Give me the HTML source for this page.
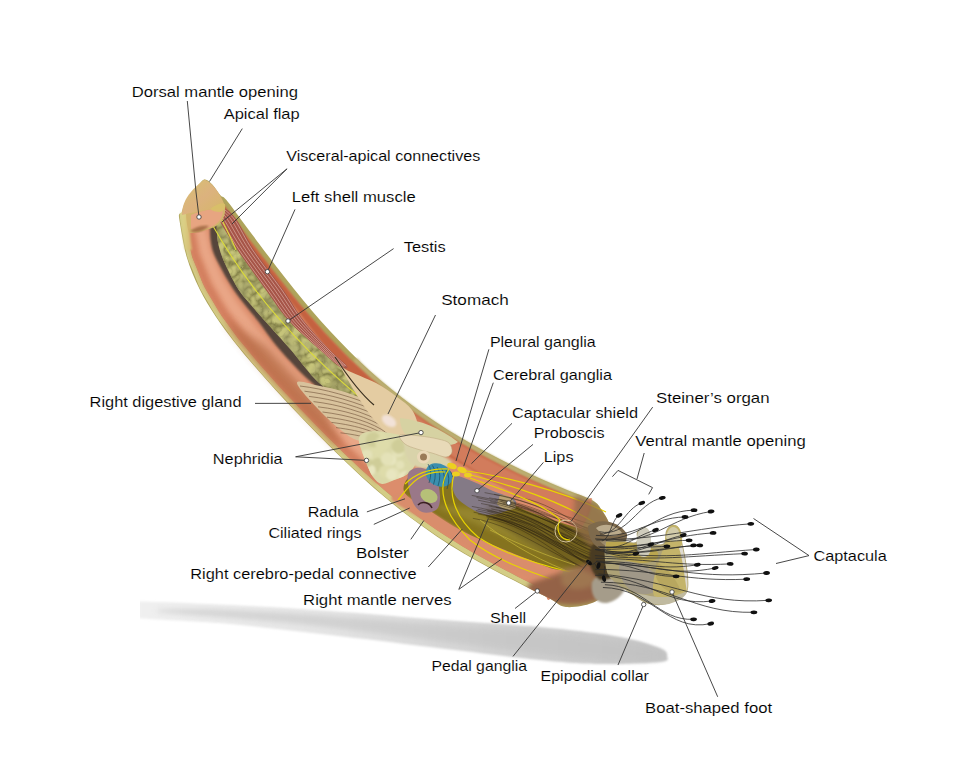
<!DOCTYPE html>
<html><head><meta charset="utf-8"><style>
html,body{margin:0;padding:0;background:#fff;width:960px;height:778px;overflow:hidden}
svg{display:block}
text{font-family:"Liberation Sans",sans-serif;font-size:15.5px;fill:#000;stroke:#fff;stroke-width:0.12px}
</style></head><body>
<svg width="960" height="778" viewBox="0 0 960 778">
<rect width="960" height="778" fill="#fff"/>
<defs>
<filter id="blur3" x="-10%" y="-50%" width="120%" height="200%"><feGaussianBlur stdDeviation="4"/></filter>
<filter id="blur3b" x="-30%" y="-30%" width="160%" height="160%"><feGaussianBlur stdDeviation="4"/></filter>
<filter id="blur1" x="-10%" y="-10%" width="120%" height="120%"><feGaussianBlur stdDeviation="1.2"/></filter>
<filter id="blur2" x="-20%" y="-20%" width="140%" height="140%"><feGaussianBlur stdDeviation="2.5"/></filter>
<filter id="mottle" x="0" y="0" width="100%" height="100%">
 <feTurbulence type="turbulence" baseFrequency="0.08" numOctaves="2" seed="4" result="n"/>
 <feColorMatrix in="n" type="matrix" values="0 0 0 0 0.24  0 0 0 0 0.23  0 0 0 0 0.07  -2.5 0 0 0 1.1" result="dark"/>
 <feGaussianBlur in="dark" stdDeviation="0.5" result="db"/>
 <feComposite in="db" in2="SourceGraphic" operator="in" result="d2"/>
 <feMerge><feMergeNode in="SourceGraphic"/><feMergeNode in="d2"/></feMerge>
</filter>
<filter id="mottle3" x="0" y="0" width="100%" height="100%">
 <feTurbulence type="fractalNoise" baseFrequency="0.05" numOctaves="2" seed="2" result="n"/>
 <feColorMatrix in="n" type="matrix" values="0 0 0 0 0.35  0 0 0 0 0.34  0 0 0 0 0.15  0 0 0 -5 2.7" result="dark"/>
 <feComposite in="dark" in2="SourceGraphic" operator="in"/>
</filter>
<filter id="mottle2" x="0" y="0" width="100%" height="100%">
 <feTurbulence type="fractalNoise" baseFrequency="0.12" numOctaves="2" seed="5" result="n"/>
 <feColorMatrix in="n" type="matrix" values="0 0 0 0 0.62  0 0 0 0 0.62  0 0 0 0 0.45  0 0 0 -6 3.4" result="dark"/>
 <feComposite in="dark" in2="SourceGraphic" operator="in" result="d2"/>
 <feMerge><feMergeNode in="SourceGraphic"/><feMergeNode in="d2"/></feMerge>
</filter>
<linearGradient id="shadowg" x1="140" y1="0" x2="667" y2="0" gradientUnits="userSpaceOnUse">
<stop offset="0" stop-color="#e6e6e6"/><stop offset="0.5" stop-color="#d0d0d0"/><stop offset="1" stop-color="#bcbcbc"/></linearGradient>
</defs>
<clipPath id="shclip"><rect x="140" y="560" width="600" height="140"/></clipPath>
<linearGradient id="shadowg2" x1="140" y1="0" x2="667" y2="0" gradientUnits="userSpaceOnUse"><stop offset="0" stop-color="#f0f0f0"/><stop offset="0.35" stop-color="#e4e4e4"/><stop offset="0.7" stop-color="#d0d0d0"/><stop offset="1" stop-color="#c4c4c4"/></linearGradient>
<g clip-path="url(#shclip)"><path d="M120.0,602.0 C138.3,600.2 195.0,603.5 230.0,605.0 C265.0,606.5 296.7,608.7 330.0,611.0 C363.3,613.3 393.3,616.2 430.0,619.0 C466.7,621.8 518.3,625.0 550.0,628.0 C581.7,631.0 601.7,633.7 620.0,637.0 C638.3,640.3 652.2,644.8 660.0,648.0 C667.8,651.2 667.0,653.7 667.0,656.0 C667.0,658.3 671.2,660.7 660.0,662.0 C648.8,663.3 620.0,664.3 600.0,664.0 C580.0,663.7 568.3,662.8 540.0,660.0 C511.7,657.2 465.0,651.2 430.0,647.0 C395.0,642.8 363.3,638.8 330.0,635.0 C296.7,631.2 265.0,627.2 230.0,624.0 C195.0,620.8 138.3,619.7 120.0,616.0 C101.7,612.3 101.7,603.8 120.0,602.0Z" fill="url(#shadowg2)" filter="url(#blur1)"/></g>
<path d="M200.0,609.0 C223.3,609.3 261.7,611.5 300.0,614.0 C338.3,616.5 388.3,620.8 430.0,624.0 C471.7,627.2 518.3,630.0 550.0,633.0 C581.7,636.0 601.7,638.8 620.0,642.0 C638.3,645.2 652.7,649.3 660.0,652.0 C667.3,654.7 667.3,656.5 664.0,658.0 C660.7,659.5 657.3,661.3 640.0,661.0 C622.7,660.7 595.0,659.5 560.0,656.0 C525.0,652.5 473.3,645.3 430.0,640.0 C386.7,634.7 345.0,628.7 300.0,624.0 C255.0,619.3 176.7,614.5 160.0,612.0 C143.3,609.5 176.7,608.7 200.0,609.0Z" fill="#c0c0c0" opacity="0.5" filter="url(#blur2)"/>
<path d="M212.3,184.4 C215.0,187.0 218.1,192.6 220.4,195.2 C222.7,197.8 222.4,195.3 226.2,199.8 C230.0,204.3 237.4,214.7 243.0,222.2 C248.6,229.7 254.2,237.2 259.8,244.7 C265.4,252.2 271.0,259.6 276.7,267.0 C282.4,274.4 288.2,281.8 294.0,289.0 C299.8,296.2 305.7,303.5 311.7,310.5 C317.7,317.5 323.9,324.4 330.2,331.2 C336.5,338.0 342.8,344.7 349.4,351.2 C355.9,357.7 362.6,364.2 369.5,370.4 C376.4,376.6 383.4,382.6 390.6,388.5 C397.8,394.4 405.2,400.1 412.7,405.7 C420.2,411.3 427.8,416.7 435.7,421.9 C443.6,427.1 451.6,432.1 459.8,437.0 C468.0,441.9 476.3,446.7 484.8,451.3 C493.3,455.9 501.9,460.3 510.7,464.6 C519.5,468.9 528.4,473.1 537.4,477.2 C546.4,481.3 555.5,485.1 564.7,489.0 C573.9,492.9 586.4,496.9 592.6,500.4 C598.8,503.9 599.0,506.2 601.7,510.0 C604.4,513.8 607.0,517.7 609.0,523.0 C611.0,528.3 612.8,534.8 614.0,542.0 C615.2,549.2 617.0,558.0 616.0,566.0 C615.0,574.0 612.0,583.8 608.0,590.0 C604.0,596.2 599.0,600.2 592.0,603.0 C585.0,605.8 572.9,607.7 566.0,607.0 C559.1,606.3 558.0,602.8 550.5,599.0 C543.0,595.2 530.9,589.2 521.2,584.2 C511.5,579.2 501.7,574.3 492.1,569.2 C482.6,564.1 473.1,558.9 463.9,553.4 C454.7,547.9 445.6,542.3 436.8,536.4 C428.0,530.5 419.4,524.4 411.0,518.1 C402.6,511.8 394.4,505.3 386.4,498.6 C378.4,491.9 370.5,485.0 362.8,478.0 C355.1,471.0 347.6,463.8 340.1,456.6 C332.7,449.4 325.4,442.1 318.1,434.7 C310.8,427.3 303.6,419.8 296.4,412.2 C289.2,404.6 282.1,397.1 275.1,389.4 C268.1,381.7 261.1,374.0 254.3,366.1 C247.5,358.2 240.7,350.3 234.3,342.0 C227.9,333.7 221.5,325.4 215.7,316.5 C209.9,307.6 204.2,298.6 199.4,288.7 C194.6,278.8 190.1,268.7 186.8,257.3 C183.5,245.9 180.7,227.7 179.5,220.5 C178.3,213.3 179.2,215.2 179.5,214.0 C179.8,212.8 180.8,214.5 181.5,213.0 C182.2,211.5 182.8,207.7 184.0,205.0 C185.2,202.3 187.0,199.8 189.0,197.0 C191.0,194.2 193.5,191.4 196.0,188.5 C198.5,185.6 201.5,180.2 204.2,179.5 C206.9,178.8 209.6,181.8 212.3,184.4Z" fill="#aea45c"/>
<clipPath id="tubeclip"><path d="M212.3,184.4 C215.0,187.0 218.1,192.6 220.4,195.2 C222.7,197.8 222.4,195.3 226.2,199.8 C230.0,204.3 237.4,214.7 243.0,222.2 C248.6,229.7 254.2,237.2 259.8,244.7 C265.4,252.2 271.0,259.6 276.7,267.0 C282.4,274.4 288.2,281.8 294.0,289.0 C299.8,296.2 305.7,303.5 311.7,310.5 C317.7,317.5 323.9,324.4 330.2,331.2 C336.5,338.0 342.8,344.7 349.4,351.2 C355.9,357.7 362.6,364.2 369.5,370.4 C376.4,376.6 383.4,382.6 390.6,388.5 C397.8,394.4 405.2,400.1 412.7,405.7 C420.2,411.3 427.8,416.7 435.7,421.9 C443.6,427.1 451.6,432.1 459.8,437.0 C468.0,441.9 476.3,446.7 484.8,451.3 C493.3,455.9 501.9,460.3 510.7,464.6 C519.5,468.9 528.4,473.1 537.4,477.2 C546.4,481.3 555.5,485.1 564.7,489.0 C573.9,492.9 586.4,496.9 592.6,500.4 C598.8,503.9 599.0,506.2 601.7,510.0 C604.4,513.8 607.0,517.7 609.0,523.0 C611.0,528.3 612.8,534.8 614.0,542.0 C615.2,549.2 617.0,558.0 616.0,566.0 C615.0,574.0 612.0,583.8 608.0,590.0 C604.0,596.2 599.0,600.2 592.0,603.0 C585.0,605.8 572.9,607.7 566.0,607.0 C559.1,606.3 558.0,602.8 550.5,599.0 C543.0,595.2 530.9,589.2 521.2,584.2 C511.5,579.2 501.7,574.3 492.1,569.2 C482.6,564.1 473.1,558.9 463.9,553.4 C454.7,547.9 445.6,542.3 436.8,536.4 C428.0,530.5 419.4,524.4 411.0,518.1 C402.6,511.8 394.4,505.3 386.4,498.6 C378.4,491.9 370.5,485.0 362.8,478.0 C355.1,471.0 347.6,463.8 340.1,456.6 C332.7,449.4 325.4,442.1 318.1,434.7 C310.8,427.3 303.6,419.8 296.4,412.2 C289.2,404.6 282.1,397.1 275.1,389.4 C268.1,381.7 261.1,374.0 254.3,366.1 C247.5,358.2 240.7,350.3 234.3,342.0 C227.9,333.7 221.5,325.4 215.7,316.5 C209.9,307.6 204.2,298.6 199.4,288.7 C194.6,278.8 190.1,268.7 186.8,257.3 C183.5,245.9 180.7,227.7 179.5,220.5 C178.3,213.3 179.2,215.2 179.5,214.0 C179.8,212.8 180.8,214.5 181.5,213.0 C182.2,211.5 182.8,207.7 184.0,205.0 C185.2,202.3 187.0,199.8 189.0,197.0 C191.0,194.2 193.5,191.4 196.0,188.5 C198.5,185.6 201.5,180.2 204.2,179.5 C206.9,178.8 209.6,181.8 212.3,184.4Z"/></clipPath>
<path d="M356.7,358.6 C358.2,358.8 360.1,361.9 361.9,363.5 C363.6,365.2 365.3,366.8 367.0,368.4 C368.7,370.0 370.5,371.6 372.3,373.2 C374.1,374.8 375.9,376.3 377.7,377.8 C379.5,379.4 381.3,380.9 383.1,382.4 C384.9,384.0 386.6,385.5 388.5,387.1 C390.3,388.6 392.1,390.1 394.0,391.5 C395.9,393.0 397.7,394.4 399.6,395.9 C401.5,397.3 403.4,398.8 405.2,400.3 C407.1,401.7 408.9,403.2 410.8,404.6 C412.7,406.0 414.7,407.4 416.6,408.8 C418.5,410.2 420.5,411.5 422.4,412.9 C424.3,414.3 426.3,415.6 428.2,417.0 C430.1,418.4 432.0,419.8 434.0,421.1 C436.0,422.4 438.0,423.7 440.0,424.9 C442.0,426.2 444.0,427.5 446.0,428.7 C448.0,430.0 450.0,431.2 452.0,432.5 C454.0,433.7 456.0,435.0 458.1,436.3 C460.1,437.5 462.1,438.7 464.2,439.9 C466.2,441.0 468.3,442.2 470.4,443.4 C472.4,444.6 474.5,445.7 476.5,446.9 C478.6,448.1 480.6,449.3 482.7,450.4 C484.8,451.6 486.9,452.7 489.0,453.8 C491.1,454.9 493.2,455.9 495.3,457.0 C497.4,458.1 499.5,459.2 501.6,460.3 C503.7,461.4 505.8,462.5 507.9,463.5 C510.1,464.6 512.2,465.6 514.3,466.6 C516.5,467.7 518.6,468.7 520.7,469.7 C522.9,470.7 525.0,471.7 527.2,472.7 C529.3,473.7 531.4,474.7 533.6,475.7 C535.7,476.7 537.9,477.7 540.1,478.7 C542.2,479.6 544.4,480.6 546.6,481.5 C548.8,482.4 550.9,483.4 553.1,484.3 C555.3,485.3 557.5,486.2 559.6,487.1 C561.8,488.1 564.0,489.0 566.2,489.9 C568.4,490.8 570.6,491.7 572.8,492.6 C574.9,493.5 577.1,494.4 579.3,495.3 C581.5,496.2 583.7,497.1 585.9,498.0 C588.1,498.9 591.7,499.4 592.5,500.7 C593.3,501.9 591.9,505.1 590.5,505.5 C589.1,505.8 586.1,503.7 583.9,502.8 C581.8,501.9 579.6,501.0 577.4,500.1 C575.2,499.2 573.0,498.3 570.8,497.4 C568.6,496.5 566.4,495.7 564.2,494.7 C562.0,493.8 559.8,492.9 557.6,491.9 C555.4,491.0 553.2,490.0 551.1,489.1 C548.9,488.2 546.7,487.2 544.5,486.3 C542.4,485.3 540.2,484.4 538.0,483.5 C535.8,482.5 533.6,481.4 531.4,480.4 C529.2,479.4 527.1,478.4 525.0,477.4 C522.8,476.4 520.7,475.4 518.5,474.4 C516.4,473.4 514.3,472.4 512.1,471.3 C509.9,470.3 507.7,469.2 505.6,468.1 C503.4,467.1 501.3,466.0 499.2,464.9 C497.1,463.8 495.0,462.7 492.9,461.7 C490.8,460.6 488.7,459.5 486.6,458.4 C484.5,457.3 482.2,456.1 480.1,455.0 C478.0,453.8 476.0,452.6 473.9,451.4 C471.9,450.2 469.8,449.1 467.8,447.9 C465.7,446.7 463.7,445.6 461.6,444.4 C459.5,443.2 457.4,441.9 455.3,440.7 C453.3,439.4 451.3,438.2 449.3,436.9 C447.3,435.6 445.3,434.4 443.2,433.1 C441.2,431.9 439.3,430.6 437.2,429.3 C435.2,428.1 433.1,426.7 431.1,425.4 C429.1,424.0 427.2,422.6 425.2,421.2 C423.3,419.9 421.3,418.5 419.4,417.1 C417.5,415.8 415.5,414.5 413.6,413.1 C411.6,411.7 409.6,410.2 407.7,408.7 C405.7,407.3 403.9,405.8 402.0,404.4 C400.2,402.9 398.3,401.5 396.4,400.0 C394.6,398.5 392.7,397.1 390.8,395.6 C388.9,394.1 386.9,392.6 385.1,391.0 C383.2,389.5 381.5,387.9 379.7,386.4 C377.9,384.8 376.1,383.3 374.3,381.8 C372.5,380.2 370.7,378.7 368.9,377.1 C367.1,375.5 365.2,373.8 363.4,372.2 C361.6,370.5 360.0,368.9 358.3,367.3 C356.6,365.6 353.4,363.8 353.1,362.4 C352.9,360.9 355.3,358.4 356.7,358.6Z" fill="#bcae72" filter="url(#blur1)"/>
<path d="M180.0,214.0 C179.4,215.8 180.4,221.4 180.9,225.1 C181.4,228.8 182.4,232.5 183.1,236.2 C183.9,239.9 184.6,243.6 185.3,247.2 C186.1,250.9 186.6,254.6 187.7,258.2 C188.8,261.8 190.5,265.2 191.9,268.6 C193.3,272.1 194.7,275.7 196.1,279.1 C197.5,282.6 198.8,286.1 200.5,289.5 C202.1,292.8 204.2,295.9 206.1,299.2 C208.0,302.4 209.9,305.7 211.8,308.9 C213.8,312.1 215.7,315.4 217.8,318.5 C219.9,321.6 222.2,324.6 224.4,327.6 C226.6,330.6 228.8,333.7 231.1,336.7 C233.3,339.7 235.6,342.7 237.9,345.6 C240.3,348.5 242.8,351.4 245.2,354.3 C247.6,357.2 249.9,360.1 252.4,363.0 C254.8,365.8 257.3,368.7 259.8,371.5 C262.3,374.3 264.8,377.1 267.3,379.9 C269.8,382.7 272.3,385.5 274.8,388.3 C277.3,391.1 279.9,393.8 282.5,396.6 C285.0,399.3 287.6,402.1 290.2,404.8 C292.8,407.6 295.3,410.3 297.9,413.0 C300.5,415.8 303.1,418.5 305.7,421.2 C308.4,423.9 311.0,426.6 313.6,429.3 C316.2,432.0 318.8,434.7 321.5,437.4 C324.1,440.0 326.8,442.7 329.5,445.3 C332.1,448.0 334.8,450.7 337.5,453.3 C340.2,455.9 342.9,458.5 345.6,461.1 C348.3,463.7 351.1,466.3 353.8,468.8 C356.6,471.4 359.2,474.0 362.0,476.6 C364.8,479.1 367.7,481.6 370.5,484.0 C373.3,486.5 376.1,489.0 379.0,491.5 C381.8,493.9 384.6,496.4 387.5,498.8 C390.4,501.2 393.4,503.5 396.3,505.8 C399.3,508.2 402.2,510.5 405.2,512.9 C408.2,515.2 411.1,517.5 414.1,519.7 C417.1,521.9 420.3,524.1 423.3,526.2 C426.4,528.4 429.4,530.6 432.5,532.8 C435.6,534.9 438.7,537.0 441.9,539.0 C445.1,541.1 448.3,543.0 451.5,545.0 C454.7,547.0 457.8,549.1 461.0,551.0 C464.2,553.0 467.5,554.8 470.8,556.7 C474.0,558.5 477.3,560.3 480.6,562.2 C483.9,564.0 487.1,565.9 490.5,567.7 C493.8,569.5 497.1,571.2 500.4,572.9 C503.8,574.7 507.1,576.4 510.5,578.1 C513.8,579.8 517.2,581.6 520.5,583.3 C523.9,585.0 527.2,586.7 530.6,588.4 C533.9,590.1 537.3,591.8 540.6,593.5 C544.0,595.2 548.7,598.4 550.7,598.6 C552.8,598.7 554.2,595.9 552.8,594.4 C551.5,592.8 546.1,591.0 542.8,589.3 C539.4,587.6 536.0,585.9 532.7,584.2 C529.3,582.5 526.0,580.8 522.6,579.1 C519.3,577.4 516.0,575.7 512.6,573.9 C509.3,572.2 505.9,570.5 502.6,568.8 C499.3,567.0 496.0,565.4 492.7,563.6 C489.4,561.8 486.2,559.9 482.9,558.1 C479.6,556.3 476.3,554.4 473.1,552.6 C469.8,550.7 466.7,548.9 463.5,547.0 C460.3,545.1 457.1,543.0 454.0,541.0 C450.8,539.0 447.5,537.0 444.4,535.0 C441.3,533.0 438.3,531.0 435.3,528.9 C432.2,526.8 429.1,524.6 426.1,522.4 C423.0,520.2 419.8,518.1 416.9,515.9 C413.9,513.7 411.0,511.5 408.1,509.2 C405.2,506.9 402.2,504.5 399.3,502.2 C396.3,499.8 393.4,497.6 390.5,495.2 C387.6,492.8 384.9,490.4 382.1,487.9 C379.3,485.5 376.4,483.0 373.6,480.5 C370.8,478.0 368.0,475.6 365.2,473.1 C362.5,470.6 359.8,468.0 357.0,465.4 C354.3,462.8 351.5,460.3 348.8,457.7 C346.1,455.1 343.5,452.6 340.8,449.9 C338.1,447.3 335.5,444.6 332.8,442.0 C330.1,439.3 327.4,436.7 324.8,434.0 C322.2,431.4 319.6,428.7 317.0,426.0 C314.4,423.3 311.7,420.6 309.1,417.9 C306.5,415.2 303.9,412.5 301.3,409.8 C298.7,407.1 296.2,404.4 293.6,401.6 C291.1,398.9 288.5,396.1 285.9,393.4 C283.4,390.6 280.8,387.9 278.3,385.2 C275.8,382.4 273.3,379.6 270.8,376.8 C268.3,374.0 265.7,371.1 263.3,368.3 C260.8,365.5 258.4,362.8 256.0,360.0 C253.6,357.1 251.2,354.2 248.8,351.3 C246.4,348.4 243.9,345.5 241.6,342.6 C239.2,339.7 237.1,336.9 234.9,333.9 C232.6,331.0 230.4,327.9 228.2,324.8 C226.0,321.8 223.6,318.8 221.6,315.7 C219.5,312.7 217.8,309.7 215.9,306.6 C214.0,303.4 212.1,300.0 210.2,296.8 C208.3,293.6 206.2,290.5 204.6,287.3 C203.0,284.0 201.8,280.8 200.5,277.4 C199.1,274.0 197.6,270.3 196.3,266.9 C194.9,263.4 193.2,260.1 192.1,256.7 C191.1,253.3 190.7,249.9 189.9,246.3 C189.2,242.8 188.5,238.9 187.7,235.3 C187.0,231.6 186.0,227.7 185.5,224.2 C185.0,220.6 185.6,215.7 184.7,214.0 C183.8,212.3 180.6,212.2 180.0,214.0Z" fill="#d3cd86"/>
<path d="M207.9,187.7 C212.6,184.5 211.0,192.2 213.0,194.5 C215.0,196.9 217.8,199.6 219.7,201.7 C221.7,203.8 223.0,204.9 224.6,206.9 C226.3,208.9 228.0,211.4 229.8,213.7 C231.5,216.0 233.2,218.3 234.9,220.5 C236.6,222.8 238.3,225.1 240.0,227.4 C241.7,229.6 243.4,231.9 245.1,234.2 C246.8,236.5 248.5,238.8 250.2,241.0 C251.9,243.3 253.6,245.6 255.3,247.9 C257.0,250.2 258.8,252.4 260.5,254.7 C262.2,257.0 263.9,259.3 265.6,261.5 C267.4,263.8 269.1,266.1 270.8,268.3 C272.6,270.6 274.3,272.9 276.1,275.1 C277.9,277.4 279.6,279.6 281.4,281.9 C283.1,284.1 284.9,286.3 286.7,288.6 C288.4,290.8 290.3,293.1 292.1,295.3 C293.9,297.6 295.7,299.7 297.5,301.9 C299.3,304.1 301.1,306.3 302.9,308.5 C304.8,310.7 306.6,313.0 308.5,315.2 C310.4,317.4 312.3,319.5 314.2,321.6 C316.1,323.7 318.0,325.8 319.9,328.0 C321.8,330.1 323.7,332.3 325.7,334.4 C327.6,336.5 329.7,338.6 331.7,340.7 C333.6,342.7 335.6,344.8 337.6,346.8 C339.5,348.9 341.5,350.9 343.5,353.0 C345.5,355.0 347.7,357.1 349.7,359.1 C351.8,361.1 353.9,363.1 355.9,365.0 C358.0,367.0 360.0,368.9 362.1,370.9 C364.2,372.9 366.4,375.0 368.6,376.9 C370.8,378.8 372.9,380.6 375.1,382.4 C377.2,384.3 379.4,386.1 381.6,388.0 C383.8,389.9 386.0,391.8 388.2,393.6 C390.5,395.5 392.8,397.2 395.0,398.9 C397.3,400.7 399.5,402.4 401.8,404.2 C404.0,405.9 406.3,407.7 408.6,409.5 C410.9,411.2 413.3,412.9 415.7,414.5 C418.0,416.2 420.3,417.8 422.6,419.4 C425.0,421.1 427.2,422.7 429.6,424.4 C432.0,426.0 434.6,427.6 437.0,429.2 C439.4,430.8 441.8,432.2 444.2,433.7 C446.7,435.3 449.0,436.8 451.5,438.3 C453.9,439.8 456.4,441.4 458.9,442.8 C461.4,444.3 463.9,445.7 466.4,447.1 C468.8,448.5 471.3,449.9 473.8,451.3 C476.3,452.7 478.7,454.2 481.2,455.6 C483.8,457.0 486.4,458.3 489.0,459.6 C491.5,460.9 494.0,462.2 496.6,463.5 C499.1,464.8 501.6,466.1 504.2,467.4 C506.7,468.7 509.4,470.0 512.0,471.3 C514.6,472.5 517.1,473.7 519.7,474.9 C522.3,476.1 524.8,477.4 527.4,478.6 C530.0,479.8 532.6,481.1 535.2,482.2 C537.9,483.4 540.5,484.5 543.2,485.7 C545.8,486.8 548.4,487.9 551.0,489.1 C553.6,490.2 556.2,491.3 558.8,492.5 C561.5,493.6 564.2,494.7 566.8,495.8 C569.5,496.9 572.1,498.0 574.7,499.0 C577.3,500.1 580.0,501.2 582.6,502.3 C585.3,503.3 595.5,490.1 590.5,505.5 C585.6,520.8 560.5,580.3 552.8,594.4 C545.2,608.5 547.3,591.5 544.5,590.1 C541.7,588.7 538.9,587.3 536.1,585.9 C533.3,584.5 530.5,583.1 527.7,581.7 C525.0,580.3 522.2,578.9 519.4,577.4 C516.7,576.0 513.9,574.6 511.1,573.1 C508.3,571.7 505.5,570.3 502.8,568.8 C500.0,567.4 497.2,566.0 494.5,564.6 C491.8,563.1 489.1,561.6 486.4,560.1 C483.7,558.5 481.0,557.0 478.2,555.5 C475.5,553.9 472.7,552.4 470.1,550.9 C467.4,549.3 464.9,547.8 462.2,546.2 C459.6,544.6 456.9,542.9 454.3,541.2 C451.6,539.6 449.0,537.9 446.3,536.2 C443.7,534.6 441.2,533.0 438.6,531.3 C436.1,529.6 433.6,527.7 431.0,525.9 C428.5,524.1 425.9,522.3 423.4,520.5 C420.9,518.7 418.3,517.0 415.8,515.1 C413.3,513.3 411.0,511.4 408.6,509.5 C406.1,507.6 403.7,505.6 401.2,503.7 C398.8,501.8 396.3,499.8 393.9,497.9 C391.5,495.9 389.2,494.1 386.8,492.1 C384.5,490.1 382.1,488.0 379.8,485.9 C377.4,483.9 375.0,481.8 372.7,479.7 C370.4,477.7 368.0,475.7 365.8,473.6 C363.5,471.6 361.3,469.4 359.0,467.3 C356.7,465.1 354.4,463.0 352.2,460.8 C349.9,458.7 347.6,456.6 345.4,454.4 C343.1,452.3 341.0,450.1 338.8,447.9 C336.5,445.7 334.3,443.5 332.1,441.3 C329.9,439.1 327.7,436.9 325.5,434.7 C323.3,432.5 321.1,430.3 319.0,428.1 C316.8,425.9 314.6,423.6 312.5,421.4 C310.3,419.1 308.1,416.8 305.9,414.6 C303.8,412.4 301.6,410.1 299.5,407.9 C297.3,405.6 295.2,403.3 293.1,401.1 C291.0,398.8 288.8,396.5 286.7,394.2 C284.6,391.9 282.4,389.7 280.3,387.4 C278.2,385.1 276.2,382.8 274.1,380.5 C272.0,378.2 269.9,375.8 267.9,373.5 C265.8,371.2 263.7,368.8 261.6,366.5 C259.6,364.2 257.6,361.9 255.6,359.5 C253.6,357.2 251.6,354.7 249.6,352.3 C247.6,349.9 245.6,347.5 243.6,345.1 C241.7,342.7 239.7,340.5 237.8,338.0 C236.0,335.6 234.2,333.1 232.4,330.5 C230.5,328.0 228.7,325.5 226.9,323.0 C225.0,320.5 223.1,318.0 221.4,315.4 C219.7,312.9 218.2,310.5 216.7,307.9 C215.1,305.3 213.5,302.5 211.9,299.8 C210.3,297.1 208.6,294.3 207.2,291.7 C205.7,289.1 204.4,286.8 203.1,284.1 C201.9,281.4 200.8,278.3 199.7,275.4 C198.5,272.5 197.3,269.6 196.2,266.7 C195.0,263.8 193.6,260.8 192.7,258.0 C191.8,255.2 191.3,252.8 190.6,249.9 C190.0,247.0 189.4,243.8 188.8,240.7 C188.2,237.6 187.6,234.6 187.0,231.5 C186.4,228.5 185.6,225.3 185.2,222.4 C184.8,219.5 180.9,219.8 184.7,214.0 C188.5,208.2 203.2,190.9 207.9,187.7Z" fill="#dc8d6c"/>
<path d="M208.3,187.4 C209.9,188.4 212.1,193.0 214.5,195.7 C216.8,198.3 220.1,200.7 222.4,203.2 C224.6,205.7 226.2,208.1 228.2,210.8 C230.2,213.4 232.3,216.2 234.3,219.0 C236.4,221.7 238.4,224.5 240.5,227.2 C242.5,229.9 244.6,232.7 246.6,235.4 C248.7,238.2 250.7,240.9 252.8,243.7 C254.9,246.4 256.9,249.2 259.0,251.9 C261.1,254.7 263.1,257.4 265.2,260.1 C267.3,262.8 269.3,265.6 271.4,268.3 C273.5,271.0 275.7,273.8 277.8,276.5 C279.9,279.2 282.0,281.9 284.2,284.6 C286.3,287.3 288.4,290.0 290.6,292.7 C292.7,295.4 294.9,298.0 297.1,300.7 C299.3,303.3 301.4,305.9 303.7,308.6 C305.9,311.3 308.2,314.0 310.4,316.6 C312.7,319.2 315.0,321.7 317.3,324.3 C319.6,326.8 321.8,329.4 324.1,331.9 C326.5,334.5 328.9,337.0 331.3,339.6 C333.7,342.1 336.0,344.5 338.4,347.0 C340.8,349.5 343.2,352.0 345.6,354.4 C348.1,356.9 350.6,359.3 353.1,361.7 C355.6,364.0 358.0,366.4 360.5,368.8 C363.1,371.1 365.7,373.6 368.3,375.9 C370.9,378.2 373.5,380.4 376.1,382.6 C378.7,384.9 381.2,387.1 383.9,389.3 C386.5,391.5 389.3,393.8 392.0,396.0 C394.7,398.1 397.4,400.2 400.1,402.3 C402.9,404.4 405.5,406.5 408.3,408.6 C411.1,410.7 414.0,412.7 416.8,414.7 C419.6,416.7 422.4,418.6 425.2,420.6 C428.0,422.6 430.9,424.7 433.8,426.6 C436.7,428.5 439.7,430.3 442.6,432.1 C445.5,433.9 448.4,435.8 451.3,437.6 C454.2,439.4 457.3,441.3 460.2,443.0 C463.2,444.8 466.2,446.4 469.2,448.1 C472.2,449.8 475.1,451.5 478.1,453.2 C481.1,454.9 484.3,456.6 487.3,458.2 C490.4,459.8 493.4,461.4 496.5,462.9 C499.5,464.5 502.6,466.1 505.6,467.6 C508.7,469.2 511.9,470.7 515.0,472.2 C518.2,473.7 521.2,475.1 524.3,476.6 C527.4,478.0 530.5,479.5 533.7,481.0 C536.8,482.4 540.0,483.8 543.2,485.2 C546.4,486.5 549.5,487.9 552.6,489.2 C555.8,490.6 558.9,492.0 562.1,493.3 C565.3,494.7 568.5,495.9 571.7,497.3 C574.9,498.6 578.0,499.8 581.2,501.1 C584.4,502.4 590.3,501.4 590.7,505.0 C591.1,508.6 586.3,520.4 583.5,522.6 C580.7,524.9 577.2,520.0 574.0,518.6 C570.9,517.3 567.8,516.0 564.6,514.6 C561.4,513.3 558.0,511.9 554.8,510.5 C551.6,509.1 548.4,507.7 545.3,506.2 C542.1,504.8 539.1,503.5 535.9,502.1 C532.7,500.6 529.2,499.1 526.0,497.6 C522.7,496.1 519.7,494.5 516.6,493.0 C513.5,491.5 510.5,490.1 507.3,488.5 C504.1,486.9 500.6,485.2 497.5,483.6 C494.3,482.0 491.4,480.4 488.3,478.8 C485.3,477.2 482.4,475.7 479.2,474.0 C476.1,472.3 472.5,470.3 469.4,468.5 C466.2,466.7 463.5,465.0 460.5,463.3 C457.5,461.6 454.7,459.9 451.6,458.1 C448.5,456.2 445.2,454.1 442.1,452.2 C439.1,450.3 436.4,448.5 433.5,446.6 C430.6,444.7 427.5,443.0 424.5,440.9 C421.6,438.8 418.5,436.3 415.7,434.1 C412.9,431.9 410.5,429.9 407.7,427.7 C404.9,425.5 401.8,423.0 399.0,420.7 C396.3,418.4 393.8,416.1 391.2,413.8 C388.6,411.5 386.1,409.4 383.4,407.0 C380.7,404.6 377.8,402.0 375.1,399.5 C372.5,397.1 370.2,394.7 367.7,392.3 C365.3,390.0 362.8,387.7 360.3,385.2 C357.8,382.6 355.0,379.7 352.5,377.1 C350.1,374.5 347.9,372.2 345.5,369.6 C343.2,367.0 340.7,364.4 338.3,361.7 C336.0,359.0 333.7,356.3 331.5,353.6 C329.2,351.0 327.1,348.4 324.9,345.7 C322.6,343.0 320.2,340.2 318.0,337.4 C315.8,334.7 313.8,332.0 311.6,329.3 C309.5,326.6 307.4,324.0 305.3,321.2 C303.2,318.4 301.0,315.3 298.9,312.5 C296.7,309.7 294.7,307.1 292.6,304.4 C290.4,301.7 288.2,299.0 286.1,296.3 C283.9,293.6 281.8,290.8 279.7,288.0 C277.6,285.3 275.6,282.6 273.5,279.9 C271.4,277.1 269.2,274.3 267.2,271.6 C265.1,268.8 263.1,266.0 261.0,263.3 C259.0,260.5 257.0,257.8 254.9,255.0 C252.9,252.2 250.9,249.4 248.8,246.6 C246.8,243.9 244.8,241.1 242.8,238.3 C240.8,235.5 238.8,232.8 236.7,230.0 C234.7,227.2 232.7,224.5 230.7,221.7 C228.7,218.9 226.5,216.0 224.6,213.4 C222.7,210.8 221.6,208.8 219.4,206.2 C217.1,203.7 213.6,200.9 211.2,198.2 C208.8,195.4 205.6,191.6 205.1,189.8 C204.6,188.0 206.7,186.4 208.3,187.4Z" fill="#c4623f" filter="url(#blur1)"/>
<path d="M193.5,214.0 C191.9,215.1 193.4,218.0 193.7,220.4 C194.1,222.9 194.8,225.8 195.4,228.7 C195.9,231.5 196.5,234.4 197.1,237.3 C197.7,240.2 198.3,243.2 198.8,245.9 C199.3,248.6 199.5,250.9 200.2,253.3 C201.0,255.7 202.0,257.7 203.0,260.2 C204.1,262.7 205.2,265.6 206.3,268.4 C207.4,271.1 208.6,274.0 209.6,276.5 C210.6,279.0 211.3,280.9 212.4,283.2 C213.6,285.5 215.1,287.9 216.6,290.3 C218.0,292.8 219.5,295.4 221.0,297.9 C222.5,300.4 224.0,303.2 225.5,305.5 C226.9,307.8 228.0,309.5 229.5,311.7 C231.0,313.9 233.0,316.4 234.7,318.8 C236.4,321.1 238.2,323.6 239.9,325.9 C241.6,328.2 243.2,330.5 244.9,332.7 C246.6,334.9 248.3,336.9 250.1,339.1 C251.9,341.3 253.8,343.6 255.7,345.9 C257.6,348.1 259.5,350.4 261.3,352.6 C263.1,354.8 264.8,356.8 266.7,359.0 C268.6,361.1 270.6,363.3 272.5,365.5 C274.5,367.7 276.4,369.9 278.4,372.1 C280.3,374.2 282.3,376.5 284.2,378.6 C286.2,380.7 288.0,382.7 290.0,384.8 C292.0,387.0 294.0,389.1 296.0,391.3 C298.0,393.4 300.0,395.6 302.0,397.7 C304.0,399.8 305.9,401.9 307.9,404.0 C309.9,406.1 312.0,408.2 314.0,410.3 C316.0,412.4 318.1,414.5 320.1,416.6 C322.1,418.7 324.2,420.8 326.2,422.9 C328.2,425.0 330.1,426.9 332.2,429.0 C334.2,431.0 336.3,433.1 338.4,435.2 C340.5,437.2 342.6,439.3 344.6,441.4 C346.7,443.4 348.6,445.4 350.7,447.4 C352.8,449.4 354.9,451.3 357.0,453.3 C359.1,455.3 361.3,457.3 363.4,459.4 C365.6,461.4 367.7,463.4 369.8,465.4 C371.9,467.3 373.8,469.0 376.0,470.9 C378.1,472.8 379.7,477.7 382.6,476.7 C385.4,475.6 392.5,467.6 393.1,464.6 C393.7,461.7 388.5,460.7 386.4,459.0 C384.3,457.2 382.6,455.8 380.6,453.9 C378.5,452.1 376.3,450.0 374.1,448.0 C371.9,446.1 369.7,444.1 367.6,442.1 C365.5,440.2 363.3,438.3 361.3,436.3 C359.2,434.4 357.4,432.6 355.3,430.7 C353.3,428.7 351.1,426.6 349.0,424.6 C346.9,422.5 344.7,420.4 342.6,418.5 C340.6,416.5 338.7,414.7 336.7,412.7 C334.7,410.7 332.6,408.6 330.5,406.5 C328.5,404.5 326.4,402.4 324.3,400.3 C322.3,398.2 320.2,396.1 318.2,394.1 C316.1,392.1 314.3,390.2 312.3,388.1 C310.3,386.0 308.2,383.9 306.2,381.8 C304.1,379.7 302.0,377.5 300.1,375.4 C298.1,373.4 296.3,371.5 294.3,369.5 C292.4,367.4 290.4,365.2 288.4,363.1 C286.5,361.0 284.4,358.8 282.5,356.6 C280.5,354.5 278.4,352.3 276.6,350.3 C274.7,348.2 273.2,346.4 271.3,344.3 C269.5,342.2 267.5,339.9 265.6,337.6 C263.7,335.4 261.6,333.1 259.9,331.0 C258.1,328.9 256.5,327.2 254.8,325.1 C253.2,323.1 251.6,320.8 249.9,318.6 C248.2,316.3 246.3,313.9 244.6,311.6 C242.8,309.2 240.7,306.6 239.3,304.6 C237.8,302.5 237.1,301.5 235.7,299.4 C234.4,297.3 232.7,294.5 231.2,292.0 C229.6,289.5 228.0,286.8 226.6,284.5 C225.1,282.1 223.6,279.8 222.5,277.8 C221.4,275.8 221.0,274.6 220.1,272.3 C219.1,270.1 217.8,266.9 216.6,264.2 C215.5,261.5 214.2,258.5 213.2,256.1 C212.2,253.8 211.3,252.3 210.6,250.2 C209.9,248.2 209.8,246.3 209.2,243.8 C208.7,241.3 208.0,238.1 207.4,235.2 C206.8,232.4 206.1,229.4 205.5,226.6 C204.9,223.9 204.1,220.8 203.8,218.7 C203.4,216.6 205.2,214.8 203.5,214.0 C201.8,213.2 195.1,212.9 193.5,214.0Z" fill="#e9a686" filter="url(#blur2)"/>
<path d="M185.5,214.0 C184.7,215.3 185.5,219.0 185.9,221.7 C186.2,224.4 187.0,227.4 187.5,230.2 C188.1,233.1 188.7,236.0 189.3,238.8 C189.8,241.7 190.4,244.7 191.0,247.5 C191.5,250.2 191.8,252.9 192.6,255.5 C193.4,258.2 194.6,260.5 195.6,263.2 C196.7,265.8 197.8,268.6 198.9,271.3 C200.0,274.1 201.1,276.9 202.2,279.5 C203.3,282.1 204.1,284.5 205.4,287.0 C206.6,289.5 208.2,291.9 209.7,294.4 C211.1,296.9 212.6,299.4 214.1,301.9 C215.6,304.5 217.1,307.1 218.6,309.5 C220.1,311.9 221.4,314.1 223.0,316.4 C224.7,318.7 226.5,321.1 228.2,323.5 C230.0,325.9 231.7,328.2 233.4,330.6 C235.1,332.9 236.8,335.3 238.5,337.6 C240.3,339.9 242.1,342.0 243.9,344.2 C245.8,346.4 247.7,348.7 249.5,351.0 C251.4,353.2 253.3,355.5 255.2,357.7 C257.0,360.0 258.8,362.1 260.7,364.3 C262.6,366.5 264.6,368.6 266.6,370.8 C268.5,373.0 270.5,375.2 272.4,377.4 C274.4,379.6 276.3,381.8 278.3,383.9 C280.2,386.1 282.2,388.2 284.2,390.3 C286.1,392.4 288.2,394.6 290.2,396.7 C292.2,398.9 294.2,401.0 296.2,403.2 C298.2,405.3 300.1,407.4 302.1,409.5 C304.1,411.6 306.2,413.7 308.2,415.8 C310.3,417.9 312.3,420.0 314.3,422.1 C316.4,424.3 318.4,426.4 320.4,428.5 C322.5,430.5 324.5,432.6 326.5,434.6 C328.6,436.7 330.7,438.8 332.8,440.8 C334.8,442.9 336.9,445.0 339.0,447.0 C341.1,449.1 343.1,451.1 345.2,453.1 C347.3,455.2 349.4,457.1 351.5,459.1 C353.7,461.1 355.8,463.2 357.9,465.2 C360.1,467.2 362.2,469.2 364.3,471.2 C366.5,473.2 368.5,475.0 370.7,476.9 C372.9,478.9 375.7,482.4 377.3,482.7 C379.0,483.1 381.2,480.5 380.6,478.9 C380.1,477.4 376.1,475.1 374.0,473.2 C371.8,471.3 369.9,469.5 367.8,467.6 C365.7,465.6 363.5,463.5 361.4,461.5 C359.2,459.5 357.1,457.5 355.0,455.5 C352.8,453.5 350.7,451.5 348.6,449.5 C346.6,447.5 344.6,445.5 342.5,443.5 C340.5,441.5 338.4,439.4 336.3,437.3 C334.2,435.2 332.1,433.1 330.1,431.1 C328.0,429.0 326.0,427.1 324.0,425.0 C322.0,422.9 320.0,420.8 317.9,418.7 C315.9,416.6 313.9,414.5 311.8,412.3 C309.8,410.2 307.7,408.1 305.7,406.0 C303.7,403.9 301.8,401.9 299.8,399.7 C297.8,397.6 295.8,395.5 293.8,393.3 C291.8,391.2 289.8,389.0 287.8,386.9 C285.8,384.8 283.9,382.7 282.0,380.6 C280.0,378.5 278.1,376.2 276.2,374.1 C274.2,371.9 272.2,369.7 270.3,367.5 C268.3,365.3 266.4,363.1 264.5,361.0 C262.6,358.8 260.9,356.7 259.0,354.5 C257.2,352.3 255.3,350.0 253.4,347.8 C251.5,345.5 249.6,343.2 247.8,341.0 C246.0,338.8 244.2,336.8 242.5,334.6 C240.8,332.3 239.1,330.0 237.4,327.6 C235.7,325.3 234.0,322.9 232.3,320.5 C230.5,318.2 228.6,315.7 227.1,313.4 C225.5,311.2 224.3,309.3 222.9,307.0 C221.4,304.7 219.9,301.9 218.4,299.4 C217.0,296.9 215.4,294.3 214.0,291.8 C212.5,289.4 211.0,287.0 209.8,284.6 C208.6,282.3 207.9,280.2 206.8,277.6 C205.8,275.1 204.6,272.2 203.5,269.5 C202.4,266.8 201.3,263.9 200.3,261.3 C199.2,258.8 198.1,256.6 197.4,254.1 C196.6,251.7 196.4,249.2 195.9,246.5 C195.3,243.8 194.7,240.7 194.2,237.9 C193.6,235.0 193.0,232.1 192.4,229.2 C191.9,226.4 191.1,223.5 190.8,220.9 C190.5,218.4 191.4,215.2 190.5,214.0 C189.6,212.8 186.3,212.7 185.5,214.0Z" fill="#cc7454" filter="url(#blur2)" opacity="0.75"/>
<path d="M226.6,322.9 C226.7,324.0 228.8,326.0 230.0,327.6 C231.1,329.1 232.2,330.6 233.3,332.2 C234.4,333.7 235.6,335.3 236.7,336.8 C237.8,338.3 238.9,339.6 240.0,341.1 C241.2,342.5 242.5,344.0 243.7,345.5 C244.9,346.9 246.1,348.4 247.3,349.9 C248.5,351.3 249.8,352.8 251.0,354.3 C252.2,355.7 253.4,357.2 254.6,358.7 C255.8,360.1 257.0,361.6 258.3,363.0 C259.5,364.4 260.7,365.8 262.0,367.2 C263.2,368.6 264.5,370.1 265.8,371.5 C267.1,372.9 268.3,374.3 269.6,375.7 C270.9,377.2 272.2,378.6 273.4,380.0 C274.7,381.4 276.0,382.9 277.2,384.3 C278.5,385.7 279.7,387.0 281.0,388.4 C282.3,389.8 283.6,391.2 284.9,392.6 C286.2,394.0 287.5,395.4 288.8,396.8 C290.1,398.2 291.4,399.6 292.7,401.0 C294.0,402.4 295.3,403.8 296.6,405.1 C297.9,406.5 299.2,407.9 300.5,409.3 C301.8,410.6 303.2,412.0 304.5,413.4 C305.8,414.7 307.1,416.1 308.5,417.5 C309.8,418.9 311.1,420.2 312.4,421.6 C313.7,423.0 315.1,424.4 316.4,425.7 C317.7,427.1 319.0,428.5 320.4,429.8 C321.7,431.2 323.0,432.5 324.3,433.8 C325.7,435.2 327.0,436.5 328.4,437.9 C329.7,439.2 331.1,440.6 332.4,441.9 C333.8,443.3 335.2,445.9 336.5,446.0 C337.8,446.0 339.9,443.9 340.0,442.4 C340.2,440.9 338.3,438.7 337.4,436.9 C336.6,435.1 335.7,433.2 334.8,431.4 C334.0,429.6 333.1,427.7 332.2,425.9 C331.4,424.1 330.7,422.4 329.9,420.6 C329.1,418.8 328.3,416.9 327.4,415.1 C326.6,413.2 325.8,411.3 325.0,409.5 C324.1,407.7 323.3,405.9 322.1,404.3 C320.9,402.8 319.4,401.6 318.0,400.3 C316.7,399.0 315.4,397.7 314.1,396.4 C312.8,395.1 311.5,393.8 310.2,392.5 C308.9,391.1 307.5,389.7 306.2,388.4 C304.9,387.0 303.5,385.7 302.2,384.3 C300.9,382.9 299.5,381.6 298.2,380.2 C296.8,378.9 295.5,377.4 294.2,376.1 C292.9,374.8 291.8,373.7 290.5,372.4 C289.3,371.0 287.9,369.6 286.6,368.2 C285.3,366.8 284.0,365.4 282.7,364.0 C281.4,362.6 280.1,361.2 278.8,359.9 C277.5,358.5 276.2,357.0 274.9,355.7 C273.6,354.3 272.4,353.1 271.2,351.8 C270.1,350.5 269.1,349.0 267.7,347.8 C266.4,346.5 264.7,345.4 263.0,344.3 C261.4,343.1 259.7,342.1 258.0,341.0 C256.3,339.9 254.6,338.8 252.9,337.8 C251.3,336.7 249.5,335.6 247.9,334.6 C246.4,333.6 245.0,332.8 243.5,331.8 C241.9,330.7 240.3,329.5 238.7,328.3 C237.1,327.1 235.5,325.9 233.8,324.7 C232.2,323.5 230.2,321.5 229.0,321.2 C227.8,320.9 226.4,321.9 226.6,322.9Z" fill="#b86e48" filter="url(#blur3b)" opacity="0.8"/>
<path d="M210.0,229.0 C209.8,234.3 210.5,243.2 212.5,250.0 C214.5,256.8 218.5,263.3 222.0,270.0 C225.5,276.7 229.9,284.2 233.8,290.0 C237.6,295.8 241.0,299.8 245.0,305.0 C249.0,310.2 252.2,313.5 258.0,321.0 C263.8,328.5 271.5,340.2 280.0,350.0 C288.5,359.8 299.6,371.7 308.8,380.0 C317.9,388.3 326.5,395.0 335.0,400.0 C343.5,405.0 352.5,407.7 360.0,410.0 C367.5,412.3 376.0,414.3 380.0,414.0 C384.0,413.7 385.0,409.8 384.0,408.0 C383.0,406.2 379.5,407.7 374.0,403.0 C368.5,398.3 357.0,386.3 351.0,380.0 C345.0,373.7 343.2,370.0 338.0,365.0 C332.8,360.0 328.2,357.3 320.0,350.0 C311.8,342.7 298.0,331.0 289.0,321.0 C280.0,311.0 274.6,301.8 266.0,290.0 C257.4,278.2 245.3,261.7 237.5,250.0 C229.7,238.3 222.9,225.3 219.0,220.0 C215.1,214.7 215.5,216.5 214.0,218.0 C212.5,219.5 210.2,223.7 210.0,229.0Z" fill="#54443a" filter="url(#blur1)"/>
<path d="M217.0,233.0 C217.1,238.0 218.0,243.8 219.8,250.0 C221.6,256.2 224.8,263.3 228.0,270.0 C231.2,276.7 234.9,284.2 238.8,290.0 C242.6,295.8 246.6,299.8 251.0,305.0 C255.4,310.2 258.3,313.5 265.0,321.0 C271.7,328.5 282.5,340.2 291.0,350.0 C299.5,359.8 307.8,372.0 316.0,380.0 C324.2,388.0 332.3,393.7 340.0,398.0 C347.7,402.3 355.3,404.0 362.0,406.0 C368.7,408.0 376.3,409.7 380.0,410.0 C383.7,410.3 385.0,409.2 384.0,408.0 C383.0,406.8 379.5,407.7 374.0,403.0 C368.5,398.3 357.0,386.3 351.0,380.0 C345.0,373.7 343.2,370.0 338.0,365.0 C332.8,360.0 328.2,357.3 320.0,350.0 C311.8,342.7 298.0,331.0 289.0,321.0 C280.0,311.0 274.6,301.8 266.0,290.0 C257.4,278.2 245.3,261.7 237.5,250.0 C229.7,238.3 222.4,222.8 219.0,220.0 C215.6,217.2 216.9,228.0 217.0,233.0Z" fill="#c6c47a" filter="url(#mottle)"/>
<path d="M217.0,233.0 C217.1,238.0 218.0,243.8 219.8,250.0 C221.6,256.2 224.8,263.3 228.0,270.0 C231.2,276.7 234.9,284.2 238.8,290.0 C242.6,295.8 246.6,299.8 251.0,305.0 C255.4,310.2 258.3,313.5 265.0,321.0 C271.7,328.5 282.5,340.2 291.0,350.0 C299.5,359.8 307.8,372.0 316.0,380.0 C324.2,388.0 332.3,393.7 340.0,398.0 C347.7,402.3 355.3,404.0 362.0,406.0 C368.7,408.0 376.3,409.7 380.0,410.0 C383.7,410.3 385.0,409.2 384.0,408.0 C383.0,406.8 379.5,407.7 374.0,403.0 C368.5,398.3 357.0,386.3 351.0,380.0 C345.0,373.7 343.2,370.0 338.0,365.0 C332.8,360.0 328.2,357.3 320.0,350.0 C311.8,342.7 298.0,331.0 289.0,321.0 C280.0,311.0 274.6,301.8 266.0,290.0 C257.4,278.2 245.3,261.7 237.5,250.0 C229.7,238.3 222.4,222.8 219.0,220.0 C215.6,217.2 216.9,228.0 217.0,233.0Z" fill="#5a5628" opacity="0.45" filter="url(#mottle3)"/>
<path d="M215.0,213.0 C214.2,215.0 215.2,213.8 219.0,220.0 C222.8,226.2 229.7,238.3 237.5,250.0 C245.3,261.7 257.4,278.2 266.0,290.0 C274.6,301.8 280.0,311.0 289.0,321.0 C298.0,331.0 311.5,342.3 320.0,350.0 C328.5,357.7 335.5,364.3 340.0,367.0 C344.5,369.7 348.7,368.8 347.0,366.0 C345.3,363.2 337.2,357.5 330.0,350.0 C322.8,342.5 311.8,331.0 304.0,321.0 C296.2,311.0 291.8,301.8 283.5,290.0 C275.2,278.2 262.0,261.7 254.2,250.0 C246.4,238.3 241.7,227.0 236.7,220.0 C231.7,213.0 227.6,209.2 224.0,208.0 C220.4,206.8 215.8,211.0 215.0,213.0Z" fill="#a65548"/>
<path d="M215.9,212.5 C216.7,213.8 216.9,213.8 220.8,220.0 C224.6,226.2 231.3,238.3 239.2,250.0 C247.0,261.7 259.2,278.2 267.8,290.0 C276.3,301.8 281.6,311.0 290.5,321.0 C299.4,331.0 312.6,342.4 321.0,350.0 C329.4,357.6 337.4,364.1 340.7,366.9" fill="none" stroke="#e6bcb0" stroke-width="0.6"/>
<path d="M217.7,211.5 C218.8,212.9 220.2,213.6 224.3,220.0 C228.4,226.4 234.7,238.3 242.5,250.0 C250.3,261.7 262.8,278.2 271.2,290.0 C279.7,301.8 284.9,311.0 293.5,321.0 C302.1,331.0 314.9,342.4 323.0,350.0 C331.1,357.6 338.9,363.9 342.1,366.7" fill="none" stroke="#e6bcb0" stroke-width="0.6"/>
<path d="M219.5,210.5 C220.9,212.1 223.5,213.4 227.8,220.0 C232.2,226.6 238.0,238.3 245.8,250.0 C253.7,261.7 266.3,278.2 274.8,290.0 C283.2,301.8 288.1,311.0 296.5,321.0 C304.9,331.0 317.2,342.4 325.0,350.0 C332.8,357.6 340.4,363.8 343.5,366.5" fill="none" stroke="#e6bcb0" stroke-width="0.6"/>
<path d="M221.3,209.5 C223.0,211.2 226.7,213.2 231.4,220.0 C236.0,226.8 241.4,238.3 249.2,250.0 C257.0,261.7 269.9,278.2 278.2,290.0 C286.6,301.8 291.4,311.0 299.5,321.0 C307.6,331.0 319.4,342.4 327.0,350.0 C334.6,357.6 341.9,363.6 344.9,366.3" fill="none" stroke="#e6bcb0" stroke-width="0.6"/>
<path d="M223.1,208.5 C225.1,210.4 230.0,213.1 234.9,220.0 C239.8,226.9 244.7,238.3 252.5,250.0 C260.3,261.7 273.4,278.2 281.8,290.0 C290.1,301.8 294.6,311.0 302.5,321.0 C310.4,331.0 321.7,342.5 329.0,350.0 C336.3,357.5 343.4,363.4 346.3,366.1" fill="none" stroke="#e6bcb0" stroke-width="0.6"/>
<path d="M213,226 C235,265 280,335 378,412" fill="none" stroke="#dcdc38" stroke-width="1.1"/>
<path d="M221,218 C226,228 232,240 236,250" fill="none" stroke="#dcdc38" stroke-width="1.1"/>
<linearGradient id="flapg" x1="0" y1="0" x2="1" y2="1"><stop offset="0" stop-color="#d6c270"/><stop offset="0.5" stop-color="#dcb27e"/><stop offset="1" stop-color="#d4b866"/></linearGradient>
<linearGradient id="leftbandg" x1="0" y1="0" x2="1" y2="0"><stop offset="0" stop-color="#dcd88c"/><stop offset="1" stop-color="#d6b870"/></linearGradient>
<path d="M181,212 C182,226 183,238 185,250 L192,250 C190,238 189,226 189,212 Z" fill="url(#leftbandg)" filter="url(#blur1)"/>
<path d="M186,213 C196,210 214,206 225,207 C226,214 223,224 212,228 C204,231 195,233 189,233 C187,226 186,219 186,213 Z" fill="#d2b46c"/>
<path d="M191,215 C200,211 214,208 223,208 C224,216 219,225 208,228 C201,230 194,230 191,229 Z" fill="#e7a581"/>
<path d="M204.2,179.5 C209,181 214,186 218,192 C221,197 224,202 225,207 C218,208 210,209 204,210.5 C198,211.5 190,213 182,215 C182,210 183,205 185.5,200 C189,193 196,186 204.2,179.5 Z" fill="url(#flapg)"/>
<path d="M210,209 C216,205 221,202 225,204 C226,208 224,211 220,212 C216,212 212,211 210,209 Z" fill="#d8c068" opacity="0.9"/>
<path d="M190,231 C196,226 204,225 209,226 C204,231 196,234 190,231 Z" fill="#a87048" filter="url(#blur1)"/>
<path d="M391.0,396.4 C392.6,396.0 394.1,398.8 395.6,400.0 C397.1,401.2 398.7,402.4 400.2,403.6 C401.7,404.8 403.2,405.9 404.8,407.1 C406.3,408.3 407.9,409.6 409.5,410.8 C411.1,412.0 412.8,413.1 414.4,414.2 C416.0,415.3 417.5,416.4 419.1,417.6 C420.7,418.7 422.3,419.8 423.9,420.9 C425.4,422.0 427.0,423.1 428.6,424.2 C430.2,425.4 432.0,426.6 433.6,427.7 C435.3,428.8 437.0,429.8 438.6,430.8 C440.3,431.8 441.9,432.9 443.5,433.9 C445.2,434.9 446.8,435.9 448.5,437.0 C450.1,438.0 451.7,439.0 453.4,440.1 C455.1,441.1 456.8,442.2 458.5,443.2 C460.2,444.2 461.9,445.1 463.6,446.1 C465.3,447.1 467.0,448.0 468.6,449.0 C470.3,449.9 472.0,450.9 473.7,451.9 C475.4,452.8 477.0,453.8 478.7,454.7 C480.5,455.7 482.3,456.7 484.1,457.7 C485.8,458.6 487.5,459.4 489.2,460.3 C491.0,461.2 492.7,462.1 494.4,463.0 C496.1,463.9 497.9,464.8 499.6,465.6 C501.3,466.5 503.0,467.4 504.8,468.3 C506.5,469.2 508.3,470.1 510.1,471.0 C511.9,471.8 513.6,472.6 515.4,473.5 C517.2,474.3 518.9,475.1 520.7,475.9 C522.4,476.8 524.2,477.6 525.9,478.4 C527.7,479.2 529.4,480.1 531.2,480.9 C532.9,481.7 534.8,482.6 536.6,483.4 C538.4,484.2 540.2,484.9 542.0,485.7 C543.7,486.5 545.5,487.2 547.3,488.0 C549.1,488.8 550.9,489.6 552.6,490.3 C554.4,491.1 556.2,491.9 558.0,492.6 C559.8,493.4 561.6,494.2 563.4,494.9 C565.2,495.7 567.0,496.4 568.8,497.2 C570.6,497.9 572.4,498.6 574.2,499.4 C576.0,500.1 577.8,500.8 579.6,501.6 C581.4,502.3 583.2,503.0 584.9,503.8 C586.7,504.5 590.7,502.5 590.3,506.0 C590.0,509.4 584.9,521.8 582.8,524.5 C580.6,527.2 579.2,522.9 577.4,522.1 C575.7,521.3 573.9,520.6 572.1,519.8 C570.3,519.0 568.6,518.2 566.8,517.4 C565.0,516.7 563.3,515.9 561.5,515.1 C559.7,514.3 557.9,513.5 556.0,512.7 C554.2,511.9 552.2,511.0 550.4,510.1 C548.6,509.3 546.9,508.5 545.1,507.7 C543.4,506.9 541.6,506.1 539.9,505.2 C538.1,504.4 536.4,503.6 534.6,502.8 C532.8,502.0 531.1,501.2 529.2,500.3 C527.3,499.4 525.2,498.4 523.4,497.4 C521.5,496.5 519.9,495.7 518.2,494.8 C516.4,494.0 514.7,493.1 513.0,492.2 C511.3,491.3 509.6,490.4 507.8,489.5 C506.1,488.5 504.4,487.6 502.6,486.6 C500.8,485.6 498.7,484.5 497.0,483.5 C495.2,482.5 493.6,481.5 491.9,480.6 C490.2,479.6 488.6,478.6 486.9,477.6 C485.2,476.6 483.6,475.7 481.9,474.7 C480.2,473.7 478.6,472.8 476.8,471.7 C475.0,470.7 472.8,469.3 471.0,468.2 C469.3,467.1 467.8,466.1 466.1,465.1 C464.5,464.0 462.9,463.0 461.2,461.9 C459.6,460.9 458.0,459.8 456.3,458.8 C454.7,457.7 453.1,456.7 451.3,455.5 C449.6,454.4 447.6,453.1 445.9,451.9 C444.3,450.7 442.8,449.6 441.3,448.4 C439.7,447.3 438.1,446.1 436.6,445.0 C435.0,443.8 433.5,442.7 431.9,441.5 C430.3,440.3 428.7,439.2 427.0,437.9 C425.4,436.6 423.5,435.1 421.9,433.8 C420.3,432.5 418.9,431.3 417.4,430.1 C415.9,428.8 414.4,427.6 412.9,426.4 C411.4,425.1 410.0,423.9 408.4,422.6 C406.9,421.4 405.3,420.1 403.7,418.7 C402.1,417.4 400.5,415.9 399.0,414.5 C397.5,413.2 396.1,411.9 394.7,410.6 C393.3,409.3 391.8,408.0 390.4,406.7 C389.0,405.4 386.0,404.4 386.1,402.7 C386.2,401.0 389.4,396.9 391.0,396.4Z" fill="#d27c5c" filter="url(#blur1)"/>
<path d="M404.0,491.4 C406.5,498.0 420.3,504.4 430.0,511.0 C439.7,517.6 450.3,524.8 462.0,531.0 C473.7,537.2 487.8,542.8 500.0,548.0 C512.2,553.2 525.0,558.3 535.0,562.0 C545.0,565.7 550.8,569.3 560.0,570.0 C569.2,570.7 582.0,569.7 590.0,566.0 C598.0,562.3 606.0,553.0 608.0,548.0 C610.0,543.0 609.2,540.0 602.0,536.0 C594.8,532.0 577.8,528.3 565.0,524.0 C552.2,519.7 536.7,514.7 525.0,510.0 C513.3,505.3 504.2,500.3 495.0,496.0 C485.8,491.7 479.2,488.0 470.0,484.0 C460.8,480.0 449.2,474.1 440.0,472.0 C430.8,469.9 421.0,468.4 415.0,471.6 C409.0,474.8 401.5,484.8 404.0,491.4Z" fill="#85731f"/>
<path d="M430,505 C470,520 520,545 560,560 C540,540 500,525 470,508 Z" fill="#9a8a30" filter="url(#blur2)" opacity="0.8"/>
<path d="M392.0,500.0 C395.0,504.0 410.7,512.0 420.0,517.8 C429.3,523.6 438.5,529.5 448.0,535.0 C457.5,540.5 467.3,545.8 477.0,551.0 C486.7,556.2 496.2,561.0 506.0,566.0 C515.8,571.0 526.2,576.0 536.0,581.0 C545.8,586.0 556.0,593.8 565.0,596.0 C574.0,598.2 589.8,596.7 590.0,594.0 C590.2,591.3 574.7,584.3 566.0,580.0 C557.3,575.7 547.7,572.3 538.0,568.0 C528.3,563.7 518.0,558.7 508.0,554.0 C498.0,549.3 487.7,545.0 478.0,540.0 C468.3,535.0 459.0,529.5 450.0,524.0 C441.0,518.5 432.0,512.2 424.0,507.2 C416.0,502.1 407.3,494.9 402.0,493.7 C396.7,492.5 389.0,496.0 392.0,500.0Z" fill="#d98d6c" filter="url(#blur1)"/>
<path d="M297.0,383.0 C296.8,378.7 312.0,384.5 320.0,386.0 C328.0,387.5 336.7,389.3 345.0,392.0 C353.3,394.7 362.5,398.7 370.0,402.0 C377.5,405.3 385.0,408.2 390.0,412.0 C395.0,415.8 399.7,421.0 400.0,425.0 C400.3,429.0 396.7,433.5 392.0,436.0 C387.3,438.5 377.3,439.2 372.0,440.0 C366.7,440.8 364.3,442.0 360.0,441.0 C355.7,440.0 352.5,438.8 346.0,434.0 C339.5,429.2 329.2,420.5 321.0,412.0 C312.8,403.5 297.2,387.3 297.0,383.0Z" fill="#d8c29c"/>
<path d="M300.0,386.0 C325.0,389.0 350.0,396.0 385.0,410.0" fill="none" stroke="#6e5038" stroke-width="0.6"/>
<path d="M304.5,391.2 C329.5,394.2 354.5,401.2 385.5,414.7" fill="none" stroke="#6e5038" stroke-width="0.6"/>
<path d="M309.0,396.4 C334.0,399.4 359.0,406.4 386.0,419.4" fill="none" stroke="#6e5038" stroke-width="0.6"/>
<path d="M313.5,401.6 C338.5,404.6 363.5,411.6 386.5,424.1" fill="none" stroke="#6e5038" stroke-width="0.6"/>
<path d="M318.0,406.8 C343.0,409.8 368.0,416.8 387.0,428.8" fill="none" stroke="#6e5038" stroke-width="0.6"/>
<path d="M322.5,412.0 C347.5,415.0 372.5,422.0 387.5,433.5" fill="none" stroke="#6e5038" stroke-width="0.6"/>
<path d="M327.0,417.2 C352.0,420.2 377.0,427.2 388.0,438.2" fill="none" stroke="#6e5038" stroke-width="0.6"/>
<path d="M331.5,422.4 C356.5,425.4 381.5,432.4 388.5,442.9" fill="none" stroke="#6e5038" stroke-width="0.6"/>
<path d="M336.0,427.6 C361.0,430.6 386.0,437.6 389.0,447.6" fill="none" stroke="#6e5038" stroke-width="0.6"/>
<path d="M340.5,432.8 C365.5,435.8 390.5,442.8 389.5,452.3" fill="none" stroke="#6e5038" stroke-width="0.6"/>
<path d="M335.0,357.0 C332.5,351.8 338.2,364.7 345.0,369.0 C351.8,373.3 367.3,378.3 376.0,383.0 C384.7,387.7 391.0,392.5 397.0,397.0 C403.0,401.5 408.5,404.8 412.0,410.0 C415.5,415.2 418.3,423.5 418.0,428.0 C417.7,432.5 414.3,435.7 410.0,437.0 C405.7,438.3 397.7,438.5 392.0,436.0 C386.3,433.5 381.3,428.0 376.0,422.0 C370.7,416.0 366.8,410.8 360.0,400.0 C353.2,389.2 337.5,362.2 335.0,357.0Z" fill="#e4cca2"/>
<ellipse cx="389" cy="421" rx="8" ry="5" transform="rotate(35 389 421)" fill="#f2e2d8" filter="url(#blur1)"/>
<path d="M335,357 C350,380 362,395 374,405" fill="none" stroke="#3a3020" stroke-width="1.2"/>
<path d="M400,418 C420,420 440,428 458,442 C450,448 430,446 410,440 C402,432 400,425 400,418 Z" fill="#d6d2a2"/>
<path d="M359.0,442.0 C358.3,437.3 359.3,435.8 362.0,434.0 C364.7,432.2 370.3,431.2 375.0,431.0 C379.7,430.8 385.0,432.2 390.0,433.0 C395.0,433.8 401.0,435.0 405.0,436.0 C409.0,437.0 411.8,437.0 414.0,439.0 C416.2,441.0 417.5,444.8 418.0,448.0 C418.5,451.2 417.7,454.8 417.0,458.0 C416.3,461.2 415.8,464.2 414.0,467.0 C412.2,469.8 409.3,472.8 406.0,475.0 C402.7,477.2 398.0,478.5 394.0,480.0 C390.0,481.5 385.5,484.5 382.0,484.0 C378.5,483.5 375.7,480.7 373.0,477.0 C370.3,473.3 368.3,467.8 366.0,462.0 C363.7,456.2 359.7,446.7 359.0,442.0Z" fill="#dad8a8"/>
<clipPath id="nephclip"><path d="M359.0,442.0 C358.3,437.3 359.3,435.8 362.0,434.0 C364.7,432.2 370.3,431.2 375.0,431.0 C379.7,430.8 385.0,432.2 390.0,433.0 C395.0,433.8 401.0,435.0 405.0,436.0 C409.0,437.0 411.8,437.0 414.0,439.0 C416.2,441.0 417.5,444.8 418.0,448.0 C418.5,451.2 417.7,454.8 417.0,458.0 C416.3,461.2 415.8,464.2 414.0,467.0 C412.2,469.8 409.3,472.8 406.0,475.0 C402.7,477.2 398.0,478.5 394.0,480.0 C390.0,481.5 385.5,484.5 382.0,484.0 C378.5,483.5 375.7,480.7 373.0,477.0 C370.3,473.3 368.3,467.8 366.0,462.0 C363.7,456.2 359.7,446.7 359.0,442.0Z"/></clipPath>
<g clip-path="url(#nephclip)" filter="url(#blur1)"><circle cx="376.9" cy="459.8" r="5.5" fill="#dedcaa"/><circle cx="394.8" cy="440.6" r="4.1" fill="#dedcaa"/><circle cx="377.9" cy="447.4" r="8.0" fill="#dedcaa"/><circle cx="390.9" cy="460.0" r="5.6" fill="#e8e6c0"/><circle cx="376.7" cy="444.1" r="7.7" fill="#dedcaa"/><circle cx="400.1" cy="464.9" r="4.3" fill="#e4e2b8"/><circle cx="379.9" cy="439.2" r="7.5" fill="#dedcaa"/><circle cx="393.4" cy="474.8" r="5.6" fill="#dedcaa"/><circle cx="384.2" cy="470.0" r="5.8" fill="#e8e6c0"/><circle cx="406.4" cy="441.9" r="4.5" fill="#e8e6c0"/><circle cx="377.9" cy="464.9" r="7.1" fill="#cfcd98"/><circle cx="385.4" cy="471.3" r="6.3" fill="#dedcaa"/><circle cx="392.9" cy="474.2" r="6.7" fill="#e4e2b8"/><circle cx="405.4" cy="477.6" r="6.7" fill="#e8e6c0"/><circle cx="398.1" cy="451.1" r="6.2" fill="#e4e2b8"/><circle cx="398.8" cy="446.4" r="7.3" fill="#cfcd98"/><circle cx="379.1" cy="440.5" r="7.4" fill="#dedcaa"/><circle cx="370.1" cy="470.0" r="5.6" fill="#e8e6c0"/><circle cx="366.9" cy="455.1" r="5.7" fill="#e4e2b8"/><circle cx="368.0" cy="462.6" r="4.2" fill="#cfcd98"/><circle cx="391.3" cy="474.9" r="5.1" fill="#e8e6c0"/><circle cx="411.9" cy="450.4" r="4.3" fill="#e4e2b8"/><circle cx="409.6" cy="476.9" r="5.2" fill="#cfcd98"/><circle cx="373.2" cy="439.7" r="7.5" fill="#cfcd98"/><circle cx="382.6" cy="443.5" r="7.4" fill="#dedcaa"/><circle cx="387.2" cy="458.8" r="6.6" fill="#e4e2b8"/></g>
<path d="M404,440 C420,445 440,452 452,462 C448,470 435,470 420,468 C410,466 404,458 404,440 Z" fill="#d9d3aa" filter="url(#blur1)"/>
<path d="M400.0,435.0 C402.5,433.7 413.7,435.3 420.0,436.0 C426.3,436.7 433.2,437.8 438.0,439.0 C442.8,440.2 446.7,440.8 449.0,443.0 C451.3,445.2 452.5,449.7 452.0,452.0 C451.5,454.3 449.3,456.8 446.0,457.0 C442.7,457.2 436.8,454.3 432.0,453.0 C427.2,451.7 421.5,450.5 417.0,449.0 C412.5,447.5 407.8,446.3 405.0,444.0 C402.2,441.7 397.5,436.3 400.0,435.0Z" fill="#e8dab8" stroke="#b8a27a" stroke-width="0.5"/>
<circle cx="423.5" cy="457" r="5" fill="#9a7a58" stroke="#ead8b8" stroke-width="3"/>
<path d="M408.0,474.0 C409.7,468.7 417.3,467.3 422.0,468.0 C426.7,468.7 433.0,473.0 436.0,478.0 C439.0,483.0 440.0,492.7 440.0,498.0 C440.0,503.3 439.0,507.7 436.0,510.0 C433.0,512.3 426.0,513.7 422.0,512.0 C418.0,510.3 414.3,506.3 412.0,500.0 C409.7,493.7 406.3,479.3 408.0,474.0Z" fill="#9a7888"/>
<ellipse cx="429" cy="496" rx="9" ry="6.5" transform="rotate(25 429 496)" fill="#b6c078"/>
<path d="M418,505 C422,500 430,503 432,508" fill="none" stroke="#3a2020" stroke-width="1.5"/>
<ellipse cx="439" cy="475" rx="14" ry="11" transform="rotate(30 439 475)" fill="#3a8fae"/>
<path d="M428.0,464.0 q5,7 1,19" fill="none" stroke="#1c4c60" stroke-width="0.7"/>
<path d="M432.5,465.5 q5,7 1,19" fill="none" stroke="#1c4c60" stroke-width="0.7"/>
<path d="M437.0,467.0 q5,7 1,19" fill="none" stroke="#1c4c60" stroke-width="0.7"/>
<path d="M441.5,468.5 q5,7 1,19" fill="none" stroke="#1c4c60" stroke-width="0.7"/>
<path d="M446.0,470.0 q5,7 1,19" fill="none" stroke="#1c4c60" stroke-width="0.7"/>
<path d="M450.5,471.5 q5,7 1,19" fill="none" stroke="#1c4c60" stroke-width="0.7"/>
<path d="M453.0,476.0 C456.2,473.8 467.3,479.5 474.0,482.0 C480.7,484.5 486.2,488.0 493.0,491.0 C499.8,494.0 512.0,497.0 515.0,500.0 C518.0,503.0 515.5,506.5 511.0,509.0 C506.5,511.5 494.8,515.2 488.0,515.0 C481.2,514.8 475.5,511.3 470.0,508.0 C464.5,504.7 457.8,500.3 455.0,495.0 C452.2,489.7 449.8,478.2 453.0,476.0Z" fill="#847a86"/>
<path d="M500,495 C508,494 515,500 516,508 C510,511 502,510 497,504 Z" fill="#b8a374"/>
<path d="M485,505 C530,515 575,528 612,542 C614,560 604,575 590,576 C555,562 520,540 490,518 Z" fill="#4a3a1c" opacity="0.3" filter="url(#blur2)"/>
<path d="M484.6,492.6 C534.6,500.6 569.2,521.4 619.2,531.4" fill="none" stroke="#2a2010" stroke-width="0.55" opacity="0.75"/>
<path d="M494.1,494.3 C544.1,502.3 564.5,525.5 614.5,535.5" fill="none" stroke="#2a2010" stroke-width="0.55" opacity="0.75"/>
<path d="M471.7,495.4 C521.7,503.4 564.6,524.5 614.6,534.5" fill="none" stroke="#2a2010" stroke-width="0.55" opacity="0.75"/>
<path d="M489.1,497.8 C539.1,505.8 565.0,526.8 615.0,536.8" fill="none" stroke="#2a2010" stroke-width="0.55" opacity="0.75"/>
<path d="M498.2,499.1 C548.2,507.1 568.6,529.3 618.6,539.3" fill="none" stroke="#2a2010" stroke-width="0.55" opacity="0.75"/>
<path d="M513.9,496.4 C563.9,504.4 570.9,530.2 620.9,540.2" fill="none" stroke="#2a2010" stroke-width="0.55" opacity="0.75"/>
<path d="M476.5,497.5 C526.5,505.5 566.5,534.8 616.5,544.8" fill="none" stroke="#2a2010" stroke-width="0.55" opacity="0.75"/>
<path d="M478.1,500.2 C528.1,508.2 569.1,533.6 619.1,543.6" fill="none" stroke="#2a2010" stroke-width="0.55" opacity="0.75"/>
<path d="M494.6,499.0 C544.6,507.0 564.5,534.1 614.5,544.1" fill="none" stroke="#2a2010" stroke-width="0.55" opacity="0.75"/>
<path d="M500.6,501.3 C550.6,509.3 566.5,537.9 616.5,547.9" fill="none" stroke="#2a2010" stroke-width="0.55" opacity="0.75"/>
<path d="M490.4,501.6 C540.4,509.6 570.4,540.0 620.4,550.0" fill="none" stroke="#2a2010" stroke-width="0.55" opacity="0.75"/>
<path d="M481.0,503.5 C531.0,511.5 568.2,542.6 618.2,552.6" fill="none" stroke="#2a2010" stroke-width="0.55" opacity="0.75"/>
<path d="M502.8,503.2 C552.8,511.2 571.8,539.5 621.8,549.5" fill="none" stroke="#2a2010" stroke-width="0.55" opacity="0.75"/>
<path d="M488.8,505.9 C538.8,513.9 565.2,543.2 615.2,553.2" fill="none" stroke="#2a2010" stroke-width="0.55" opacity="0.75"/>
<path d="M471.8,506.4 C521.8,514.4 570.1,545.2 620.1,555.2" fill="none" stroke="#2a2010" stroke-width="0.55" opacity="0.75"/>
<path d="M509.4,505.8 C559.4,513.8 569.6,546.8 619.6,556.8" fill="none" stroke="#2a2010" stroke-width="0.55" opacity="0.75"/>
<path d="M496.1,507.2 C546.1,515.2 570.7,550.4 620.7,560.4" fill="none" stroke="#2a2010" stroke-width="0.55" opacity="0.75"/>
<path d="M491.3,508.9 C541.3,516.9 564.5,550.4 614.5,560.4" fill="none" stroke="#2a2010" stroke-width="0.55" opacity="0.75"/>
<path d="M499.1,511.1 C549.1,519.1 570.6,549.4 620.6,559.4" fill="none" stroke="#2a2010" stroke-width="0.55" opacity="0.75"/>
<path d="M487.4,510.6 C537.4,518.6 564.2,552.0 614.2,562.0" fill="none" stroke="#2a2010" stroke-width="0.55" opacity="0.75"/>
<path d="M477.6,509.2 C527.6,517.2 564.5,555.3 614.5,565.3" fill="none" stroke="#2a2010" stroke-width="0.55" opacity="0.75"/>
<path d="M475.8,510.6 C525.8,518.6 567.1,557.4 617.1,567.4" fill="none" stroke="#2a2010" stroke-width="0.55" opacity="0.75"/>
<path d="M473.6,512.2 C523.6,520.2 568.4,558.9 618.4,568.9" fill="none" stroke="#2a2010" stroke-width="0.55" opacity="0.75"/>
<path d="M506.9,514.7 C556.9,522.7 566.2,557.6 616.2,567.6" fill="none" stroke="#2a2010" stroke-width="0.55" opacity="0.75"/>
<path d="M486.1,515.7 C536.1,523.7 571.7,557.5 621.7,567.5" fill="none" stroke="#2a2010" stroke-width="0.55" opacity="0.75"/>
<path d="M477.9,513.9 C527.9,521.9 565.9,561.0 615.9,571.0" fill="none" stroke="#2a2010" stroke-width="0.55" opacity="0.75"/>
<path d="M496.5,514.9 C546.5,522.9 564.0,562.1 614.0,572.1" fill="none" stroke="#2a2010" stroke-width="0.55" opacity="0.75"/>
<path d="M486.6,516.9 C536.6,524.9 571.6,565.2 621.6,575.2" fill="none" stroke="#2a2010" stroke-width="0.55" opacity="0.75"/>
<path d="M493.2,518.0 C543.2,526.0 569.4,562.9 619.4,572.9" fill="none" stroke="#2a2010" stroke-width="0.55" opacity="0.75"/>
<path d="M510.5,519.4 C560.5,527.4 571.0,568.8 621.0,578.8" fill="none" stroke="#2a2010" stroke-width="0.55" opacity="0.75"/>
<path d="M487.7,518.8 C537.7,526.8 564.8,569.3 614.8,579.3" fill="none" stroke="#2a2010" stroke-width="0.55" opacity="0.75"/>
<path d="M472.8,518.3 C522.8,526.3 565.7,568.0 615.7,578.0" fill="none" stroke="#2a2010" stroke-width="0.55" opacity="0.75"/>
<g fill="none" stroke="#e8d400" stroke-width="1.2"><path d="M449,469 C438,485 440,510 470,540 C495,560 530,572 562,583"/><path d="M455,472 C448,490 452,515 478,537 C505,555 540,565 570,572"/><path d="M467,474 C510,485 560,500 600,526"/><path d="M470,478 C510,492 545,505 560,520 C555,530 560,540 570,540"/><path d="M460,470 C500,475 560,490 606,512"/><path d="M449,469 C430,468 415,474 405,484"/><path d="M445,472 C420,470 410,485 398,500"/></g>
<g fill="none" stroke="#d8c840" stroke-width="0.7" opacity="0.8"><path d="M490,530 C520,545 545,555 575,565"/><path d="M480,520 C505,540 530,556 565,570"/></g>
<g fill="#ecd020"><ellipse cx="452" cy="466" rx="5" ry="3" transform="rotate(20 452 466)"/><ellipse cx="462" cy="470" rx="5" ry="3" transform="rotate(20 462 470)"/><ellipse cx="468" cy="475" rx="4" ry="2.5"/><ellipse cx="456" cy="474" rx="4" ry="2.5"/></g>
<circle cx="566" cy="531" r="11" fill="none" stroke="#e0d0a8" stroke-width="0.9"/>
<g clip-path="url(#tubeclip)"><path d="M528,584 C550,576 585,564 612,556 C620,572 612,592 596,601 C572,609 545,604 528,592 Z" fill="#946246" filter="url(#blur2)"/></g>
<path d="M560,570 C575,565 590,570 598,580 C590,590 575,592 562,585 Z" fill="#a88a5a" opacity="0.5" filter="url(#blur2)"/>
<path d="M592,582 C600,570 618,566 626,576 C629,589 620,600 607,603 C595,604 590,594 592,582 Z" fill="#a59c8a" filter="url(#blur1)"/>
<path d="M598,578 C606,571 618,571 622,577 C614,583 605,584 598,578 Z" fill="#c0b8a6" opacity="0.8" filter="url(#blur1)"/>
<g clip-path="url(#tubeclip)"><path d="M575,495 C595,500 610,512 614,528 C616,540 612,550 606,556 C594,550 582,540 574,528 C574,516 574,505 575,495 Z" fill="#8e6a4a" opacity="0.75" filter="url(#blur2)"/></g>
<path d="M592,545 C606,540 622,545 628,558 C626,572 614,580 600,580 C590,572 586,558 592,545 Z" fill="#4a3a22" filter="url(#blur1)"/>
<path d="M588,526 C598,518 618,520 627,534 C628,545 618,551 604,550 C594,548 588,538 588,526 Z" fill="#7e6a4c"/>
<path d="M596,528 C605,522 616,525 622,533 C614,538 603,537 596,528 Z" fill="#c2b294" opacity="0.9"/>
<path d="M600,541 C610,539 620,540 626,544 C618,549 606,549 600,541 Z" fill="#a89878" opacity="0.7"/>
<path d="M606.0,542.0 C608.5,536.8 617.0,541.0 622.0,541.0 C627.0,541.0 633.5,543.5 636.0,542.0 C638.5,540.5 635.8,534.5 637.0,532.0 C638.2,529.5 641.0,527.2 643.0,527.0 C645.0,526.8 647.7,528.3 649.0,531.0 C650.3,533.7 648.5,541.0 651.0,543.0 C653.5,545.0 661.5,545.0 664.0,543.0 C666.5,541.0 664.7,534.0 666.0,531.0 C667.3,528.0 669.8,525.5 672.0,525.0 C674.2,524.5 677.3,525.2 679.0,528.0 C680.7,530.8 681.0,537.3 682.0,542.0 C683.0,546.7 684.0,550.3 685.0,556.0 C686.0,561.7 687.7,570.0 688.0,576.0 C688.3,582.0 689.0,588.0 687.0,592.0 C685.0,596.0 680.2,597.8 676.0,600.0 C671.8,602.2 667.0,604.5 662.0,605.0 C657.0,605.5 650.8,604.7 646.0,603.0 C641.2,601.3 637.3,597.8 633.0,595.0 C628.7,592.2 624.3,589.8 620.0,586.0 C615.7,582.2 609.3,579.3 607.0,572.0 C604.7,564.7 603.5,547.2 606.0,542.0Z" fill="#ada276"/>
<path d="M606,542 C625,540 642,544 656,550 C662,557 656,563 640,563 C624,561 610,557 606,550 Z" fill="#bba650"/>
<path d="M620,562 C636,560 654,567 662,584 C656,596 641,597 629,589 C621,581 617,571 620,562 Z" fill="#a09888"/>
<path d="M637,546 C636,537 638,528 643,527 C649,527 652,534 651,546 C651,553 648,557 644,557 C639,557 637,553 637,546 Z" fill="#d0cdbd"/>
<path d="M665,543 C665,533 668,525 673,525 C680,525 683,533 682,545 C685,560 689,578 687,592 C679,600 665,602 654,596 C650,582 658,565 665,543 Z" fill="#c4b46a"/>
<path d="M666,538 C667,531 670,527 673,527 C678,527 680,532 680,540 C676,542 670,542 666,538 Z" fill="#d2ccaa"/>
<path d="M682,545 C685,560 689,578 687,592 C685,580 683,560 679,548 Z" fill="#dedad0"/>
<path d="M656,562 C666,567 676,577 681,592 C671,594 661,590 656,577 Z" fill="#b09e58" opacity="0.6"/>
<path d="M633,593 C641,601 656,607 669,604 C679,601 686,597 687,591 C676,597 661,599 646,595 Z" fill="#c0baa0"/>
<g fill="none" stroke="#2b2b2b" stroke-width="0.8"><path d="M599.4,531.7 C627.7,538.1 637.2,502.6 662.3,497.9"/><path d="M600.1,534.1 C618.9,534.5 625.1,508.1 641.8,503.0"/><path d="M601.6,540.9 C609.5,540.7 612.1,518.4 619.1,515.4"/><path d="M595.1,538.9 C639.6,543.4 654.4,510.6 694.0,510.2"/><path d="M605.8,540.6 C653.2,544.9 669.0,517.7 711.1,511.5"/><path d="M595.9,535.4 C636.0,538.6 649.4,517.6 685.0,517.0"/><path d="M596.3,540.0 C665.8,539.3 689.0,528.4 750.8,523.8"/><path d="M599.3,547.4 C624.6,550.6 633.0,536.4 655.5,530.0"/><path d="M600.0,547.2 C650.9,549.9 667.9,535.7 713.1,532.9"/><path d="M606.0,550.8 C640.8,556.5 652.4,542.2 683.3,535.1"/><path d="M597.8,546.9 C638.9,548.2 652.6,541.0 689.1,540.3"/><path d="M603.2,550.4 C643.9,556.1 657.4,549.3 693.6,545.4"/><path d="M605.5,553.9 C647.9,553.0 662.1,547.5 699.8,545.4"/><path d="M604.9,552.6 C673.0,559.5 695.7,553.5 756.3,549.5"/><path d="M594.9,555.6 C662.3,560.9 684.7,556.3 744.6,553.6"/><path d="M595.0,549.4 C620.2,556.1 628.6,552.0 651.0,544.4"/><path d="M595.4,549.6 C627.6,549.4 638.3,547.0 666.9,546.4"/><path d="M603.6,552.0 C618.2,555.5 623.0,558.1 636.0,553.6"/><path d="M596.3,561.2 C641.7,561.2 656.9,571.2 697.3,564.8"/><path d="M595.4,558.3 C656.1,559.0 676.3,566.6 730.2,563.9"/><path d="M605.7,563.1 C654.9,564.5 671.4,576.8 715.2,568.0"/><path d="M596.5,561.9 C673.1,567.7 698.6,579.4 766.6,573.0"/><path d="M595.2,569.3 C663.4,570.0 686.1,581.8 746.7,579.2"/><path d="M603.3,562.8 C636.0,564.1 647.0,577.0 676.1,576.3"/><path d="M595.1,575.2 C647.7,576.1 665.3,607.0 712.1,601.0"/><path d="M598.5,573.9 C675.1,580.5 700.6,605.1 768.7,600.3"/><path d="M600.9,582.2 C669.7,582.7 692.7,613.8 753.9,612.3"/><path d="M604.9,584.7 C644.8,585.7 658.1,621.2 693.6,619.3"/><path d="M602.9,587.5 C651.4,588.1 667.6,633.1 710.7,623.6"/><path d="M604.6,566.0 C604.3,568.4 604.2,579.7 604.0,578.7"/><path d="M594.5,563.4 C596.3,564.3 596.9,572.6 598.5,565.6"/><path d="M597.1,560.9 C593.4,564.7 592.2,565.4 589.0,562.5"/></g>
<g fill="#111"><ellipse cx="662.3" cy="497.9" rx="3.4" ry="1.9" transform="rotate(-10 662.3 497.9)"/><ellipse cx="641.8" cy="503.0" rx="3.4" ry="1.9" transform="rotate(-17 641.8 503.0)"/><ellipse cx="619.1" cy="515.4" rx="3.4" ry="1.9" transform="rotate(-23 619.1 515.4)"/><ellipse cx="694.0" cy="510.2" rx="3.4" ry="1.9" transform="rotate(-1 694.0 510.2)"/><ellipse cx="711.1" cy="511.5" rx="3.4" ry="1.9" transform="rotate(-8 711.1 511.5)"/><ellipse cx="685.0" cy="517.0" rx="3.4" ry="1.9" transform="rotate(-1 685.0 517.0)"/><ellipse cx="750.8" cy="523.8" rx="3.4" ry="1.9" transform="rotate(-4 750.8 523.8)"/><ellipse cx="655.5" cy="530.0" rx="3.4" ry="1.9" transform="rotate(-16 655.5 530.0)"/><ellipse cx="713.1" cy="532.9" rx="3.4" ry="1.9" transform="rotate(-4 713.1 532.9)"/><ellipse cx="683.3" cy="535.1" rx="3.4" ry="1.9" transform="rotate(-13 683.3 535.1)"/><ellipse cx="689.1" cy="540.3" rx="3.4" ry="1.9" transform="rotate(-1 689.1 540.3)"/><ellipse cx="693.6" cy="545.4" rx="3.4" ry="1.9" transform="rotate(-6 693.6 545.4)"/><ellipse cx="699.8" cy="545.4" rx="3.4" ry="1.9" transform="rotate(-3 699.8 545.4)"/><ellipse cx="756.3" cy="549.5" rx="3.4" ry="1.9" transform="rotate(-4 756.3 549.5)"/><ellipse cx="744.6" cy="553.6" rx="3.4" ry="1.9" transform="rotate(-3 744.6 553.6)"/><ellipse cx="651.0" cy="544.4" rx="3.4" ry="1.9" transform="rotate(-19 651.0 544.4)"/><ellipse cx="666.9" cy="546.4" rx="3.4" ry="1.9" transform="rotate(-1 666.9 546.4)"/><ellipse cx="636.0" cy="553.6" rx="3.4" ry="1.9" transform="rotate(-19 636.0 553.6)"/><ellipse cx="697.3" cy="564.8" rx="3.4" ry="1.9" transform="rotate(-9 697.3 564.8)"/><ellipse cx="730.2" cy="563.9" rx="3.4" ry="1.9" transform="rotate(-3 730.2 563.9)"/><ellipse cx="715.2" cy="568.0" rx="3.4" ry="1.9" transform="rotate(-11 715.2 568.0)"/><ellipse cx="766.6" cy="573.0" rx="3.4" ry="1.9" transform="rotate(-5 766.6 573.0)"/><ellipse cx="746.7" cy="579.2" rx="3.4" ry="1.9" transform="rotate(-2 746.7 579.2)"/><ellipse cx="676.1" cy="576.3" rx="3.4" ry="1.9" transform="rotate(-1 676.1 576.3)"/><ellipse cx="712.1" cy="601.0" rx="3.4" ry="1.9" transform="rotate(-7 712.1 601.0)"/><ellipse cx="768.7" cy="600.3" rx="3.4" ry="1.9" transform="rotate(-4 768.7 600.3)"/><ellipse cx="753.9" cy="612.3" rx="3.4" ry="1.9" transform="rotate(-1 753.9 612.3)"/><ellipse cx="693.6" cy="619.3" rx="3.4" ry="1.9" transform="rotate(-3 693.6 619.3)"/><ellipse cx="710.7" cy="623.6" rx="3.4" ry="1.9" transform="rotate(-12 710.7 623.6)"/><ellipse cx="604.0" cy="578.7" rx="3.4" ry="1.9" transform="rotate(-103 604.0 578.7)"/><ellipse cx="598.5" cy="565.6" rx="3.4" ry="1.9" transform="rotate(-77 598.5 565.6)"/><ellipse cx="589.0" cy="562.5" rx="3.4" ry="1.9" transform="rotate(-138 589.0 562.5)"/></g>
<g fill="none" stroke="#333" stroke-width="0.9"><polyline points="187.3,101.0 196.0,192.0 199.0,217.0"/><polyline points="242.3,128.6 209.5,181.5"/><polyline points="287.0,168.8 222.0,222.0"/><polyline points="287.0,168.8 232.0,224.0"/><polyline points="295.0,209.4 267.4,271.7"/><polyline points="393.6,248.6 288.0,321.0"/><polyline points="435.5,315.0 388.0,414.0"/><polyline points="255.0,403.4 311.0,403.3"/><polyline points="295.6,456.8 421.0,432.6"/><polyline points="295.6,456.8 366.5,460.4"/><polyline points="488.9,349.3 456.0,461.0"/><polyline points="493.3,382.7 463.7,466.2"/><polyline points="512.0,423.3 471.4,463.7"/><polyline points="533.0,444.4 477.0,490.7"/><polyline points="543.4,462.4 508.7,503.0"/><polyline points="652.7,407.1 571.0,521.5"/><polyline points="644.2,453.0 637.0,479.0"/><polyline points="612.4,476.7 618.0,470.4 652.5,487.6 648.7,494.4"/><polyline points="753.5,518.5 809.0,555.6 776.0,563.5"/><polyline points="366.9,511.9 405.0,498.8"/><polyline points="373.8,524.4 409.7,508.0"/><polyline points="410.8,539.4 423.8,520.6"/><polyline points="428.3,567.0 462.3,529.0"/><polyline points="458.8,589.4 488.3,518.5"/><polyline points="458.8,589.4 501.9,558.8"/><polyline points="515.0,608.5 537.3,591.0"/><polyline points="513.0,656.4 590.0,560.0"/><polyline points="618.0,665.0 643.7,604.5"/><polyline points="717.7,696.8 672.0,592.0"/></g>
<g fill="#fff" stroke="#333" stroke-width="0.8"><circle cx="199.0" cy="217.0" r="2.2"/><circle cx="267.4" cy="271.7" r="2.2"/><circle cx="288.0" cy="321.0" r="2.2"/><circle cx="421.0" cy="432.6" r="2.2"/><circle cx="366.5" cy="460.4" r="2.2"/><circle cx="477.0" cy="490.7" r="2.2"/><circle cx="508.7" cy="503.0" r="2.2"/><circle cx="537.3" cy="591.0" r="2.2"/><circle cx="643.7" cy="604.5" r="2.2"/><circle cx="672.0" cy="592.0" r="2.2"/></g>
<g><text x="131.7" y="97.0" textLength="166.3" lengthAdjust="spacingAndGlyphs">Dorsal mantle opening</text><text x="223.7" y="119.4" textLength="76.0" lengthAdjust="spacingAndGlyphs">Apical flap</text><text x="286.2" y="161.0" textLength="194.1" lengthAdjust="spacingAndGlyphs">Visceral-apical connectives</text><text x="291.7" y="201.6" textLength="124.0" lengthAdjust="spacingAndGlyphs">Left shell muscle</text><text x="403.7" y="252.0" textLength="41.9" lengthAdjust="spacingAndGlyphs">Testis</text><text x="441.2" y="305.0" textLength="67.6" lengthAdjust="spacingAndGlyphs">Stomach</text><text x="489.9" y="346.8" textLength="105.8" lengthAdjust="spacingAndGlyphs">Pleural ganglia</text><text x="493.0" y="380.0" textLength="119.0" lengthAdjust="spacingAndGlyphs">Cerebral ganglia</text><text x="656.0" y="403.3" textLength="113.6" lengthAdjust="spacingAndGlyphs">Steiner’s organ</text><text x="512.0" y="418.3" textLength="126.0" lengthAdjust="spacingAndGlyphs">Captacular shield</text><text x="533.7" y="438.3" textLength="70.9" lengthAdjust="spacingAndGlyphs">Proboscis</text><text x="635.2" y="446.2" textLength="170.7" lengthAdjust="spacingAndGlyphs">Ventral mantle opening</text><text x="543.7" y="461.7" textLength="29.9" lengthAdjust="spacingAndGlyphs">Lips</text><text x="813.5" y="561.4" textLength="73.2" lengthAdjust="spacingAndGlyphs">Captacula</text><text x="89.6" y="406.8" textLength="151.9" lengthAdjust="spacingAndGlyphs">Right digestive gland</text><text x="212.8" y="463.9" textLength="69.8" lengthAdjust="spacingAndGlyphs">Nephridia</text><text x="307.7" y="516.6" textLength="51.1" lengthAdjust="spacingAndGlyphs">Radula</text><text x="268.4" y="537.8" textLength="93.2" lengthAdjust="spacingAndGlyphs">Ciliated rings</text><text x="355.9" y="558.1" textLength="52.9" lengthAdjust="spacingAndGlyphs">Bolster</text><text x="190.3" y="579.0" textLength="226.3" lengthAdjust="spacingAndGlyphs">Right cerebro-pedal connective</text><text x="303.1" y="605.0" textLength="148.5" lengthAdjust="spacingAndGlyphs">Right mantle nerves</text><text x="490.0" y="622.8" textLength="36.2" lengthAdjust="spacingAndGlyphs">Shell</text><text x="431.4" y="671.0" textLength="95.6" lengthAdjust="spacingAndGlyphs">Pedal ganglia</text><text x="540.6" y="681.3" textLength="108.3" lengthAdjust="spacingAndGlyphs">Epipodial collar</text><text x="645.1" y="713.0" textLength="127.0" lengthAdjust="spacingAndGlyphs">Boat-shaped foot</text></g>
</svg>
</body></html>
